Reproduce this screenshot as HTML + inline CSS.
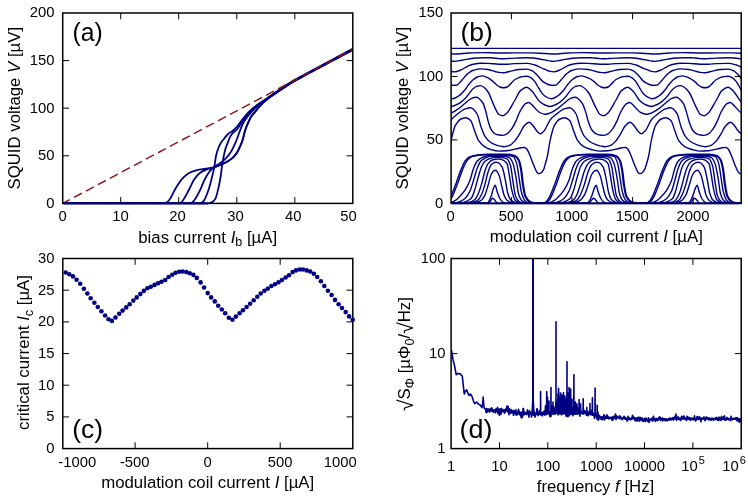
<!DOCTYPE html>
<html><head><meta charset="utf-8"><title>SQUID characteristics</title>
<style>html,body{margin:0;padding:0;background:#fff;}body{width:748px;height:499px;overflow:hidden;}svg{display:block;will-change:transform;}text{font-family:"Liberation Sans", sans-serif;fill:#000;}</style>
</head><body>
<svg width="748" height="499" viewBox="0 0 748 499">
<rect width="748" height="499" fill="#fff"/>
<defs>
<clipPath id="ca"><rect x="62.7" y="13" width="290.1" height="190.9"/></clipPath>
<clipPath id="cb"><rect x="451.1" y="13" width="290.1" height="190.9"/></clipPath>
<clipPath id="cd"><rect x="451.1" y="258.5" width="290.1" height="190.1"/></clipPath>
</defs>
<g clip-path="url(#ca)" fill="none" stroke="#000084" stroke-width="1.8" stroke-linejoin="round">
<path d="M62.7 203.4C96.5 203.4 130.3 203.4 164.1 203.4C164.9 203.4 165.7 203 166.5 202.6C167.3 202.2 168.2 201.3 169 200.3C171.3 197.6 173.7 191.4 176 187.7C178.3 184 180.7 180.2 183 177.9C185.3 175.6 187.7 173.6 190 172.5C192.4 171.4 194.7 170.6 197.1 170.1C199.4 169.6 201.8 169.4 204.1 169C207.5 168.4 211 168.1 214.4 167.3C217.6 166.5 220.9 164.9 224.1 163.3C226.8 162 229.4 160.6 232.1 158.4C233.7 157.1 235.3 155.2 236.9 152.8C238 151.2 239 148.8 240.1 146.4C240.9 144.5 241.8 142.5 242.6 140C243.4 137.5 244.3 133.1 245.1 130.5C246.2 127.2 247.2 124.8 248.3 122.4C249.4 120 250.4 117.6 251.5 116C253.1 113.6 254.7 112.3 256.3 110.4C257.5 108.9 258.8 107.3 260 106C261.7 104.2 263.3 102.4 265 101C269.8 96.9 274.6 93.9 279.4 90.7C284.3 87.3 289.2 84.1 294.1 81.2C299 78.4 303.9 75.9 308.8 73.2C313.7 70.6 318.6 68 323.5 65.4C328.4 62.7 333.3 60.2 338.2 57.6C343.1 54.9 348 52.3 352.9 49.7"/>
<path d="M62.7 203.4C101.4 203.4 140.1 203.4 178.8 203.4C179.5 203.4 180.3 203 181 202.6C181.7 202.2 182.3 201.2 183 200.3C184.9 197.8 186.7 194 188.6 190.5C190.5 187 192.4 182 194.3 179.3C196.2 176.6 198 174.3 199.9 173C202.2 171.3 204.6 170.3 206.9 169.4C209.4 168.5 211.9 168 214.4 167.2C217.6 166.1 220.9 164.9 224.1 163.3C226.8 162 229.4 160.6 232.1 158.4C233.7 157.1 235.3 155.2 236.9 152.8C238 151.2 239 148.8 240.1 146.4C240.9 144.5 241.8 142.5 242.6 140C243.4 137.5 244.3 133.1 245.1 130.5C246.2 127.2 247.2 124.8 248.3 122.4C249.4 120 250.4 117.6 251.5 116C253.1 113.6 254.7 112.3 256.3 110.4C257.5 108.9 258.8 107.3 260 106C261.7 104.2 263.3 102.4 265 101C269.8 96.9 274.6 93.9 279.4 90.7C284.3 87.3 289.2 84.1 294.1 81.2C299 78.4 303.9 75.9 308.8 73.2C313.7 70.6 318.6 68 323.5 65.4C328.4 62.7 333.3 60.2 338.2 57.6C343.1 54.9 348 52.3 352.9 49.7"/>
<path d="M62.7 203.4C105.1 203.4 147.6 203.4 190 203.4C190.7 203.4 191.3 203 192 202.6C192.8 202.2 193.5 201.2 194.3 200.3C196.2 198 198 194.3 199.9 190.5C201.3 187.7 202.7 183.5 204.1 180.7C205.7 177.4 207.4 174.4 209 172.2C210.8 169.8 212.6 167.8 214.4 166.5C216.3 165.1 218.1 164.6 220 163.3C222.2 161.8 224.3 159.9 226.5 157.6C228.1 155.9 229.7 153.8 231.3 151.2C232.4 149.5 233.4 147.1 234.5 144.8C235.2 143.3 235.9 141.7 236.6 140C237.6 137.6 238.5 134.5 239.5 132C240.6 129.2 241.6 126.1 242.7 124C244 121.4 245.4 119.4 246.7 117.6C248.5 115.2 250.2 113.4 252 111.5C254 109.4 256 107.2 258 105.5C260.3 103.5 262.7 102 265 100.3C269.8 96.8 274.6 93.4 279.4 90.2C284.3 86.9 289.2 83.7 294.1 80.8C299 77.9 303.9 75.4 308.8 72.8C313.7 70.2 318.6 67.5 323.5 64.9C328.4 62.3 333.3 59.7 338.2 57.1C343.1 54.5 348 51.9 352.9 49.2"/>
<path d="M62.7 203.4C108.4 203.4 154.2 203.4 199.9 203.4C200.6 203.4 201.3 203 202 202.6C202.7 202.2 203.4 201.3 204.1 200.3C205.5 198.3 206.9 194.5 208.3 190.5C209.2 187.9 210.2 184.2 211.1 180.7C211.8 178.1 212.5 175.3 213.2 172.2C213.6 170.4 214 168.7 214.4 166.5C214.9 163.6 215.5 158.4 216 156C216.8 152.4 217.6 150 218.4 148C219.5 145.3 220.6 143.2 221.7 141.6C222.1 141 222.6 140.5 223 140C224.8 137.9 226.5 135.2 228.3 133.7C229.9 132.3 231.5 131.8 233.1 130.5C234.4 129.4 235.8 128 237.1 126.5C239.8 123.5 242.4 119 245.1 116C247.8 113 250.4 110.2 253.1 108C257.1 104.7 261 102.5 265 99.8C269.8 96.5 274.6 93.1 279.4 89.9C284.3 86.7 289.2 83.4 294.1 80.5C299 77.6 303.9 75.1 308.8 72.5C313.7 69.9 318.6 67.2 323.5 64.6C328.4 62 333.3 59.4 338.2 56.8C343.1 54.2 348 51.6 352.9 48.9"/>
<path d="M62.7 203.4C111.2 203.4 159.8 203.4 208.3 203.4C209.2 203.4 210.1 203 211 202.6C211.7 202.3 212.3 202 213 201.5C213.8 200.9 214.5 200.2 215.3 198.9C216.5 197 217.6 191.4 218.8 186.3C219.5 183.2 220.2 179.8 220.9 175C221.2 173.2 221.4 170 221.7 168.1C222.2 164.2 222.8 161.1 223.3 158.4C224.1 154.3 224.9 150.5 225.7 148C226.2 146.5 226.6 145.6 227.1 144.4C228.2 141.7 229.2 138.2 230.3 136.4C231.6 134.2 233 132.9 234.3 131.6C235.1 130.8 235.9 130.5 236.7 129.7C237.5 128.9 238.2 127.6 239 126.5C241.2 123.4 243.4 119.7 245.6 117C248.2 113.8 250.8 110.8 253.4 108.5C257.3 105.1 261.1 102.8 265 100C269.8 96.5 274.6 93 279.4 89.8C284.3 86.4 289.2 83.2 294.1 80.3C299 77.5 303.9 75 308.8 72.3C313.7 69.7 318.6 67.1 323.5 64.5C328.4 61.8 333.3 59.3 338.2 56.6C343.1 54 348 51.4 352.9 48.8"/>
</g>
<path d="M62.7 203.4L352.8 49.2" stroke="#8b1414" stroke-width="1.45" stroke-dasharray="8.9 4.7" stroke-dashoffset="0.9" fill="none"/>
<rect x="62.7" y="13" width="290.1" height="190.4" fill="none" stroke="#000" stroke-width="1.5"/>
<path d="M63.4 203.4H208" stroke="#000084" stroke-width="2" fill="none"/>
<path d="M120.7 203.4v-6.3 M120.7 13v6.3M178.7 203.4v-6.3 M178.7 13v6.3M236.8 203.4v-6.3 M236.8 13v6.3M294.8 203.4v-6.3 M294.8 13v6.3M62.7 155.8h6.3 M352.8 155.8h-6.3M62.7 108.2h6.3 M352.8 108.2h-6.3M62.7 60.6h6.3 M352.8 60.6h-6.3" stroke="#000" stroke-width="1" fill="none"/>
<text x="54.4" y="207.7" font-size="14.8" text-anchor="end" >0</text>
<text x="54.4" y="160.1" font-size="14.8" text-anchor="end" >50</text>
<text x="54.4" y="112.5" font-size="14.8" text-anchor="end" >100</text>
<text x="54.4" y="64.9" font-size="14.8" text-anchor="end" >150</text>
<text x="54.4" y="17.3" font-size="14.8" text-anchor="end" >200</text>
<text x="62.5" y="221" font-size="14.8" text-anchor="middle" >0</text>
<text x="120.4" y="221" font-size="14.8" text-anchor="middle" >10</text>
<text x="177.6" y="221" font-size="14.8" text-anchor="middle" >20</text>
<text x="235.6" y="221" font-size="14.8" text-anchor="middle" >30</text>
<text x="293.2" y="221" font-size="14.8" text-anchor="middle" >40</text>
<text x="348.6" y="221" font-size="14.8" text-anchor="middle" >50</text>
<text x="207.7" y="242.6" font-size="16.8" text-anchor="middle">bias current <tspan font-style="italic">I</tspan><tspan font-size="12.5" dy="3.5">b</tspan><tspan dy="-3.5"> [µA]</tspan></text>
<text transform="translate(19.8 108.2) rotate(-90)" font-size="16.8" text-anchor="middle">SQUID voltage <tspan font-style="italic">V</tspan> [µV]</text>
<text transform="translate(72.6 41) scale(0.99 1)" font-size="25">(a)</text>
<g clip-path="url(#cb)" fill="none" stroke="#000084" stroke-width="1.4" stroke-linejoin="round">
<path d="M451 48.4H742"/>
<path d="M446 53.5C448.9 53.8 451.7 54 454.6 54C459.4 54 464.2 53.2 469 53C473.5 52.8 478.1 52.6 482.6 52.6C488.1 52.6 493.5 53 499 53C504.3 53 509.7 52.9 515 52.9C520.3 52.9 525.7 52.9 531 52.9C535.7 52.9 540.3 53.3 545 53.5C547.9 53.6 550.7 54 553.6 54C558.4 54 563.2 53.2 568 53C572.6 52.8 577.1 52.6 581.7 52.6C587.8 52.6 593.9 53 600 53C605.3 53 610.7 52.9 616 52.9C621.3 52.9 626.7 52.9 632 52.9C636.7 52.9 641.5 53.3 646.2 53.5C649.1 53.6 651.9 54 654.8 54C659.6 54 664.4 53.2 669.2 53C673.7 52.8 678.2 52.6 682.7 52.6C688.6 52.6 694.5 53 700.4 53C705.7 53 711.1 52.9 716.4 52.9C721.7 52.9 727.1 52.9 732.4 52.9C737.4 52.9 742.4 53.3 747.4 53.5C750.3 53.6 753.1 54 756 54C760.8 54 765.6 53.2 770.4 53C775 52.8 779.5 52.6 784.1 52.6C790.2 52.6 796.3 53 802.4 53C807.7 53 813.1 52.9 818.4 52.9C823.7 52.9 829.1 52.9 834.4 52.9"/>
<path d="M446 59.9C447 60.2 448 60.4 449 60.6C450.9 60.9 452.7 61.4 454.6 61.4C457 61.4 459.4 60.6 461.8 60.2C465.5 59.6 469.3 58.5 473 58.2C476.2 57.9 479.4 57.7 482.6 57.7C485.5 57.7 488.5 57.7 491.4 57.8C494 57.9 496.5 58.4 499 58.6C500.5 58.7 502 58.8 503.5 58.8C504.7 58.8 505.8 58.7 507 58.6C509.7 58.4 512.3 58.2 515 58.1C519 57.9 523 57.7 527 57.7C529.7 57.7 532.3 58 535 58.2C537.7 58.4 540.3 59.2 543 59.6C543.7 59.7 544.3 59.8 545 59.9C546 60.1 547 60.4 548 60.6C549.9 60.9 551.7 61.4 553.6 61.4C556 61.4 558.4 60.6 560.8 60.2C564.5 59.6 568.3 58.5 572 58.2C575.2 57.9 578.5 57.7 581.7 57.7C585.1 57.7 588.6 57.7 592 57.8C594.7 57.8 597.3 58.4 600 58.6C601.5 58.7 603 58.8 604.5 58.8C605.7 58.8 606.8 58.7 608 58.6C610.7 58.4 613.3 58.2 616 58.1C620 57.9 624 57.7 628 57.7C630.7 57.7 633.3 58 636 58.2C638.7 58.4 641.3 59.2 644 59.6C644.7 59.7 645.5 59.8 646.2 59.9C647.2 60.1 648.2 60.4 649.2 60.6C651.1 60.9 652.9 61.4 654.8 61.4C657.2 61.4 659.6 60.6 662 60.2C665.7 59.6 669.5 58.5 673.2 58.2C676.4 57.9 679.5 57.7 682.7 57.7C686 57.7 689.3 57.7 692.6 57.8C695.2 57.8 697.8 58.4 700.4 58.6C701.9 58.7 703.4 58.8 704.9 58.8C706.1 58.8 707.2 58.7 708.4 58.6C711.1 58.4 713.7 58.2 716.4 58.1C720.4 57.9 724.4 57.7 728.4 57.7C731.1 57.7 733.7 58 736.4 58.2C739.1 58.4 741.7 59.3 744.4 59.6C745.4 59.7 746.4 59.8 747.4 59.9C748.4 60 749.4 60.4 750.4 60.6C752.3 60.9 754.1 61.4 756 61.4C758.4 61.4 760.8 60.6 763.2 60.2C766.9 59.6 770.7 58.5 774.4 58.2C777.6 57.9 780.9 57.7 784.1 57.7C787.5 57.7 791 57.7 794.4 57.8C797.1 57.8 799.7 58.4 802.4 58.6C803.9 58.7 805.4 58.8 806.9 58.8C808.1 58.8 809.2 58.7 810.4 58.6C813.1 58.4 815.7 58.2 818.4 58.1C822.4 57.9 826.4 57.7 830.4 57.7C833.1 57.7 835.7 58 838.4 58.2C841.1 58.4 843.7 59 846.4 59.6"/>
<path d="M446 69.3C447.3 70 448.7 70.6 450 71C451.5 71.4 453.1 71.9 454.6 71.9C456.7 71.9 458.9 70.8 461 69.9C463.2 69 465.3 67.3 467.5 66.3C469.4 65.5 471.2 64.5 473.1 64.2C475.8 63.7 478.4 63.3 481.1 63.3C483.4 63.3 485.8 63.3 488.1 63.4C491.7 63.5 495.4 64.2 499 64.2C501.7 64.2 504.3 64.2 507 64.2C509.7 64.2 512.3 63.7 515 63.6C519 63.5 523.1 63.4 527.1 63.4C529.8 63.4 532.4 64.3 535.1 65C537.8 65.7 540.4 67.7 543.1 68.7C543.7 68.9 544.4 69.1 545 69.3C546.3 69.8 547.7 70.6 549 71C550.5 71.4 552.1 71.9 553.6 71.9C555.7 71.9 557.9 70.8 560 69.9C562.2 69 564.3 67.3 566.5 66.3C568.4 65.5 570.2 64.5 572.1 64.2C574.8 63.7 577.4 63.3 580.1 63.3C582.8 63.3 585.4 63.3 588.1 63.4C592.1 63.5 596 64.2 600 64.2C602.7 64.2 605.3 64.2 608 64.2C610.7 64.2 613.3 63.7 616 63.6C620 63.5 624.1 63.4 628.1 63.4C630.8 63.4 633.4 64.3 636.1 65C638.8 65.7 641.4 67.8 644.1 68.7C644.8 68.9 645.5 69.1 646.2 69.3C647.5 69.7 648.9 70.6 650.2 71C651.7 71.4 653.3 71.9 654.8 71.9C656.9 71.9 659.1 70.8 661.2 69.9C663.4 69 665.5 67.3 667.7 66.3C669.6 65.5 671.4 64.5 673.3 64.2C675.9 63.7 678.5 63.3 681.1 63.3C683.7 63.3 686.3 63.3 688.9 63.4C692.7 63.5 696.6 64.2 700.4 64.2C703.1 64.2 705.7 64.2 708.4 64.2C711.1 64.2 713.7 63.7 716.4 63.6C720.4 63.5 724.5 63.4 728.5 63.4C731.2 63.4 733.8 64.3 736.5 65C739.2 65.7 741.8 68 744.5 68.7C745.5 69 746.4 69 747.4 69.3C748.7 69.7 750.1 70.6 751.4 71C752.9 71.4 754.5 71.9 756 71.9C758.1 71.9 760.3 70.8 762.4 69.9C764.6 69 766.7 67.3 768.9 66.3C770.8 65.5 772.6 64.5 774.5 64.2C777.2 63.7 779.8 63.3 782.5 63.3C785.2 63.3 787.8 63.3 790.5 63.4C794.5 63.5 798.4 64.2 802.4 64.2C805.1 64.2 807.7 64.2 810.4 64.2C813.1 64.2 815.7 63.7 818.4 63.6C822.4 63.5 826.5 63.4 830.5 63.4C833.2 63.4 835.8 64.3 838.5 65C841.2 65.7 843.8 67.1 846.5 68.7"/>
<path d="M446 82.9C447.5 83.9 449.1 84.7 450.6 85C451.7 85.2 452.9 85.4 454 85.4C455 85.4 456 85.2 457 85C458.6 84.6 460.2 82 461.8 80.3C463.7 78.3 465.6 75.5 467.5 73.9C469.4 72.4 471.2 70.8 473.1 70.3C475.8 69.5 478.4 68.9 481.1 68.9C483.4 68.9 485.8 69.2 488.1 69.5C490.4 69.8 492.8 70.9 495.1 71.5C496.4 71.8 497.7 72.3 499 72.4C500.6 72.6 502.2 72.7 503.8 72.7C506.2 72.7 508.6 71.6 511 71.1C513.7 70.5 516.3 69.7 519 69.5C521.7 69.3 524.4 69.1 527.1 69.1C529 69.1 530.8 70.1 532.7 71.1C534.3 71.9 535.9 73.9 537.5 75.5C539.1 77.1 540.7 79.8 542.3 81.1C543.2 81.8 544.1 82.4 545 82.9C546.5 83.7 548.1 84.7 549.6 85C550.7 85.2 551.9 85.4 553 85.4C554 85.4 555 85.2 556 85C557.6 84.6 559.2 82 560.8 80.3C562.7 78.3 564.6 75.5 566.5 73.9C568.4 72.4 570.2 70.8 572.1 70.3C574.8 69.5 577.4 68.9 580.1 68.9C582.8 68.9 585.4 69.2 588.1 69.5C590.8 69.8 593.4 70.9 596.1 71.5C597.4 71.8 598.7 72.3 600 72.4C601.6 72.6 603.2 72.7 604.8 72.7C607.2 72.7 609.6 71.6 612 71.1C614.7 70.5 617.3 69.7 620 69.5C622.7 69.3 625.4 69.1 628.1 69.1C630 69.1 631.8 70.1 633.7 71.1C635.3 71.9 636.9 73.9 638.5 75.5C640.1 77.1 641.7 79.8 643.3 81.1C644.3 81.9 645.2 82.4 646.2 82.9C647.7 83.7 649.3 84.7 650.8 85C651.9 85.2 653.1 85.4 654.2 85.4C655.2 85.4 656.2 85.2 657.2 85C658.8 84.6 660.4 82 662 80.3C663.9 78.3 665.8 75.5 667.7 73.9C669.6 72.4 671.4 70.8 673.3 70.3C675.9 69.5 678.5 68.9 681.1 68.9C683.7 68.9 686.3 69.2 688.9 69.5C691.4 69.8 694 70.9 696.6 71.5C697.9 71.8 699.1 72.3 700.4 72.4C702 72.6 703.6 72.7 705.2 72.7C707.6 72.7 710 71.6 712.4 71.1C715.1 70.5 717.7 69.7 720.4 69.5C723.1 69.3 725.8 69.1 728.5 69.1C730.4 69.1 732.2 70.1 734.1 71.1C735.7 71.9 737.3 73.9 738.9 75.5C740.5 77.1 742.1 80 743.7 81.1C744.9 81.9 746.2 82.3 747.4 82.9C748.9 83.6 750.5 84.7 752 85C753.1 85.2 754.3 85.4 755.4 85.4C756.4 85.4 757.4 85.2 758.4 85C760 84.6 761.6 82 763.2 80.3C765.1 78.3 767 75.5 768.9 73.9C770.8 72.4 772.6 70.8 774.5 70.3C777.2 69.5 779.8 68.9 782.5 68.9C785.2 68.9 787.8 69.2 790.5 69.5C793.2 69.8 795.8 70.9 798.5 71.5C799.8 71.8 801.1 72.3 802.4 72.4C804 72.6 805.6 72.7 807.2 72.7C809.6 72.7 812 71.6 814.4 71.1C817.1 70.5 819.7 69.7 822.4 69.5C825.1 69.3 827.8 69.1 830.5 69.1C832.4 69.1 834.2 70.1 836.1 71.1C837.7 71.9 839.3 73.9 840.9 75.5C842.5 77.1 844.1 79 845.7 81.1"/>
<path d="M446 96.1C448.1 97.9 450.1 98.8 452.2 98.8C454.3 98.8 456.5 97.3 458.6 96C460.8 94.7 462.9 92.2 465.1 89.6C466.2 88.3 467.2 86.3 468.3 85C469.9 83 471.5 81 473.1 79.7C474.7 78.4 476.3 77.1 477.9 76.7C479.5 76.3 481 75.9 482.6 75.9C484.4 75.9 486.3 77 488.1 77.9C489.9 78.8 491.7 80.3 493.6 81.9C494.6 82.8 495.7 84.2 496.7 85C497.8 85.8 498.9 86.6 500 87C501.2 87.4 502.4 87.8 503.6 87.8C504.7 87.8 505.9 87.4 507 87C507.8 86.7 508.6 85.7 509.4 85C511.3 83.3 513.1 80.6 515 79.5C517.2 78.2 519.3 77 521.5 76.7C523.4 76.5 525.2 76.3 527.1 76.3C528.4 76.3 529.8 77.1 531.1 77.9C532.4 78.7 533.8 80.2 535.1 81.9C535.9 82.9 536.7 84.7 537.5 86C539.1 88.6 540.7 91.8 542.3 93.6C543.2 94.6 544.1 95.5 545 96.1C547.1 97.4 549.1 98.8 551.2 98.8C553.3 98.8 555.5 97.3 557.6 96C559.8 94.7 561.9 92.2 564.1 89.6C565.2 88.3 566.2 86.3 567.3 85C568.9 83 570.5 81 572.1 79.7C573.7 78.4 575.3 77.1 576.9 76.7C578.5 76.3 580.1 75.9 581.7 75.9C583.8 75.9 586 77 588.1 77.9C590.2 78.8 592.4 80.2 594.5 81.9C595.6 82.7 596.6 84.2 597.7 85C598.8 85.8 599.9 86.6 601 87C602.2 87.4 603.4 87.8 604.6 87.8C605.7 87.8 606.9 87.4 608 87C608.8 86.7 609.6 85.7 610.4 85C612.3 83.3 614.1 80.6 616 79.5C618.2 78.2 620.3 77 622.5 76.7C624.4 76.5 626.2 76.3 628.1 76.3C629.4 76.3 630.8 77.1 632.1 77.9C633.4 78.7 634.8 80.2 636.1 81.9C636.9 82.9 637.7 84.7 638.5 86C640.1 88.6 641.7 91.9 643.3 93.6C644.3 94.7 645.2 95.5 646.2 96.1C648.3 97.3 650.3 98.8 652.4 98.8C654.5 98.8 656.7 97.3 658.8 96C661 94.7 663.1 92.2 665.3 89.6C666.4 88.3 667.4 86.3 668.5 85C670.1 83 671.7 81 673.3 79.7C674.9 78.4 676.5 77.1 678 76.7C679.6 76.3 681.1 75.9 682.7 75.9C684.7 75.9 686.8 77 688.9 77.9C690.9 78.8 693 80.2 695.1 81.9C696.1 82.7 697.1 84.2 698.2 85C699.2 85.8 700.3 86.6 701.4 87C702.6 87.4 703.8 87.8 705 87.8C706.1 87.8 707.3 87.4 708.4 87C709.2 86.7 710 85.7 710.8 85C712.7 83.3 714.5 80.6 716.4 79.5C718.6 78.2 720.7 77 722.9 76.7C724.8 76.5 726.6 76.3 728.5 76.3C729.8 76.3 731.2 77.1 732.5 77.9C733.8 78.7 735.2 80.2 736.5 81.9C737.3 82.9 738.1 84.7 738.9 86C740.5 88.6 742.1 92.1 743.7 93.6C744.9 94.7 746.2 95.4 747.4 96.1C749.5 97.2 751.5 98.8 753.6 98.8C755.7 98.8 757.9 97.3 760 96C762.2 94.7 764.3 92.2 766.5 89.6C767.6 88.3 768.6 86.3 769.7 85C771.3 83 772.9 81 774.5 79.7C776.1 78.4 777.7 77.1 779.3 76.7C780.9 76.3 782.5 75.9 784.1 75.9C786.2 75.9 788.4 77 790.5 77.9C792.6 78.8 794.8 80.2 796.9 81.9C798 82.7 799 84.2 800.1 85C801.2 85.8 802.3 86.6 803.4 87C804.6 87.4 805.8 87.8 807 87.8C808.1 87.8 809.3 87.4 810.4 87C811.2 86.7 812 85.7 812.8 85C814.7 83.3 816.5 80.6 818.4 79.5C820.6 78.2 822.7 77 824.9 76.7C826.8 76.5 828.6 76.3 830.5 76.3C831.8 76.3 833.2 77.1 834.5 77.9C835.8 78.7 837.2 80.2 838.5 81.9C839.3 82.9 840.1 84.7 840.9 86C842.5 88.6 844.1 91.2 845.7 93.6"/>
<path d="M446 105C447.8 106.1 449.6 106.5 451.4 106.5C453.3 106.5 455.1 105.4 457 104.5C459.7 103.2 462.4 100.9 465.1 98.4C467.8 95.9 470.4 91 473.1 88.8C474.4 87.7 475.7 86.6 477 86.2C478.1 85.9 479.2 85.6 480.3 85.6C481.4 85.6 482.6 86.3 483.7 87C485.2 87.9 486.6 89.8 488.1 92C490.4 95.5 492.8 103.7 495.1 108.1C496.4 110.5 497.7 113.8 499 114.5C500.3 115.2 501.7 115.7 503 115.7C504.3 115.7 505.7 114.1 507 112.9C509.7 110.4 512.3 104.4 515 100C516.9 96.9 518.8 91.9 520.7 90.4C522.7 88.8 524.7 87.2 526.7 87.2C528.7 87.2 530.7 90 532.7 92C534.8 94.2 537 98.9 539.1 100.9C541.1 102.7 543 104.2 545 105C546.8 105.7 548.6 106.5 550.4 106.5C552.3 106.5 554.1 105.4 556 104.5C558.7 103.2 561.4 100.9 564.1 98.4C566.8 95.9 569.4 91 572.1 88.8C573.4 87.7 574.7 86.6 576 86.2C577.1 85.9 578.2 85.6 579.3 85.6C580.5 85.6 581.8 86.3 583 87C584.7 87.9 586.4 89.8 588.1 92C590.8 95.4 593.4 103.3 596.1 108.1C597.4 110.4 598.7 113.8 600 114.5C601.3 115.2 602.7 115.7 604 115.7C605.3 115.7 606.7 114.1 608 112.9C610.7 110.4 613.3 104.4 616 100C617.9 96.9 619.8 91.9 621.7 90.4C623.7 88.8 625.7 87.2 627.7 87.2C629.7 87.2 631.7 90 633.7 92C635.8 94.2 638 99 640.1 100.9C642.1 102.7 644.2 104.2 646.2 105C648 105.7 649.8 106.5 651.6 106.5C653.5 106.5 655.3 105.4 657.2 104.5C659.9 103.2 662.6 100.9 665.3 98.4C668 95.9 670.6 91 673.3 88.8C674.6 87.7 675.9 86.6 677.2 86.2C678.2 85.9 679.3 85.6 680.3 85.6C681.5 85.6 682.7 86.3 683.9 87C685.6 87.9 687.2 89.8 688.9 92C691.4 95.4 694 103.3 696.6 108.1C697.9 110.4 699.1 113.9 700.4 114.5C701.7 115.2 703.1 115.7 704.4 115.7C705.7 115.7 707.1 114.1 708.4 112.9C711.1 110.4 713.7 104.4 716.4 100C718.3 96.9 720.2 91.9 722.1 90.4C724.1 88.8 726.1 87.2 728.1 87.2C730.1 87.2 732.1 90 734.1 92C736.2 94.2 738.4 99.1 740.5 100.9C742.8 102.8 745.1 104.1 747.4 105C749.2 105.7 751 106.5 752.8 106.5C754.7 106.5 756.5 105.4 758.4 104.5C761.1 103.2 763.8 100.9 766.5 98.4C769.2 95.9 771.8 91 774.5 88.8C775.8 87.7 777.1 86.6 778.4 86.2C779.5 85.9 780.6 85.6 781.7 85.6C782.9 85.6 784.2 86.3 785.4 87C787.1 87.9 788.8 89.8 790.5 92C793.2 95.4 795.8 103.3 798.5 108.1C799.8 110.4 801.1 113.8 802.4 114.5C803.7 115.2 805.1 115.7 806.4 115.7C807.7 115.7 809.1 114.1 810.4 112.9C813.1 110.4 815.7 104.4 818.4 100C820.3 96.9 822.2 91.9 824.1 90.4C826.1 88.8 828.1 87.2 830.1 87.2C832.1 87.2 834.1 90 836.1 92C838.2 94.2 840.4 97.3 842.5 100.9"/>
<path d="M446 114.3C447 114.2 448 114 449 113.8C451.7 113.2 454.3 111.4 457 109.7C459.7 108 462.4 105.4 465.1 103.3C467.2 101.6 469.4 99.2 471.5 98.4C473.1 97.8 474.7 97.2 476.3 97.2C478.4 97.2 480.5 99.6 482.6 102.5C483.7 104.1 484.9 108.1 486 112.1C486.7 114.5 487.4 118.7 488.1 121C489.2 124.9 490.4 128.5 491.5 130.2C492.7 132 493.9 133.2 495.1 133.8C496.4 134.4 497.7 134.8 499 135C500.1 135.2 501.1 135.4 502.2 135.4C503.8 135.4 505.4 134.6 507 133.8C508.6 133 510.2 130.8 511.8 128.6C513.1 126.8 514.5 124.2 515.8 121.4C516.9 119.2 517.9 115.7 519 113.5C519.8 111.8 520.7 110.2 521.5 108.9C522.8 106.8 524.2 104.5 525.5 103.7C526.6 103.1 527.6 102.5 528.7 102.5C530.3 102.5 531.9 105 533.5 106.5C535.4 108.2 537.2 111.1 539.1 112.1C541.1 113.2 543 114.3 545 114.3C546 114.3 547 114 548 113.8C550.7 113.2 553.3 111.4 556 109.7C558.7 108 561.4 105.4 564.1 103.3C566.2 101.6 568.4 99.2 570.5 98.4C572.1 97.8 573.7 97.2 575.3 97.2C577.4 97.2 579.6 99.8 581.7 102.5C583 104.2 584.4 108.1 585.7 112.1C586.5 114.5 587.3 118.7 588.1 121C589.4 124.9 590.8 128.5 592.1 130.2C593.4 131.9 594.8 133.2 596.1 133.8C597.4 134.4 598.7 134.8 600 135C601.1 135.2 602.1 135.4 603.2 135.4C604.8 135.4 606.4 134.6 608 133.8C609.6 133 611.2 130.8 612.8 128.6C614.1 126.8 615.5 124.2 616.8 121.4C617.9 119.2 618.9 115.7 620 113.5C620.8 111.8 621.7 110.2 622.5 108.9C623.8 106.8 625.2 104.5 626.5 103.7C627.6 103.1 628.6 102.5 629.7 102.5C631.3 102.5 632.9 105 634.5 106.5C636.4 108.2 638.2 111.1 640.1 112.1C642.1 113.2 644.2 114.3 646.2 114.3C647.2 114.3 648.2 114 649.2 113.8C651.9 113.2 654.5 111.4 657.2 109.7C659.9 108 662.6 105.4 665.3 103.3C667.4 101.6 669.6 99.2 671.7 98.4C673.3 97.8 674.9 97.2 676.5 97.2C678.5 97.2 680.6 99.8 682.7 102.5C684 104.2 685.3 108.1 686.5 112.1C687.3 114.5 688.1 118.7 688.9 121C690.2 124.9 691.4 128.5 692.7 130.2C694 131.9 695.3 133.2 696.6 133.8C697.9 134.4 699.1 134.8 700.4 135C701.5 135.2 702.5 135.4 703.6 135.4C705.2 135.4 706.8 134.6 708.4 133.8C710 133 711.6 130.8 713.2 128.6C714.5 126.8 715.9 124.2 717.2 121.4C718.3 119.2 719.3 115.7 720.4 113.5C721.2 111.8 722.1 110.2 722.9 108.9C724.2 106.8 725.6 104.5 726.9 103.7C728 103.1 729 102.5 730.1 102.5C731.7 102.5 733.3 105 734.9 106.5C736.8 108.2 738.6 111.2 740.5 112.1C742.8 113.2 745.1 114.3 747.4 114.3C748.4 114.3 749.4 114 750.4 113.8C753.1 113.2 755.7 111.4 758.4 109.7C761.1 108 763.8 105.4 766.5 103.3C768.6 101.6 770.8 99.2 772.9 98.4C774.5 97.8 776.1 97.2 777.7 97.2C779.8 97.2 782 99.8 784.1 102.5C785.4 104.2 786.8 108.1 788.1 112.1C788.9 114.5 789.7 118.7 790.5 121C791.8 124.9 793.2 128.5 794.5 130.2C795.8 131.9 797.2 133.2 798.5 133.8C799.8 134.4 801.1 134.8 802.4 135C803.5 135.2 804.5 135.4 805.6 135.4C807.2 135.4 808.8 134.6 810.4 133.8C812 133 813.6 130.8 815.2 128.6C816.5 126.8 817.9 124.2 819.2 121.4C820.3 119.2 821.3 115.7 822.4 113.5C823.2 111.8 824.1 110.2 824.9 108.9C826.2 106.8 827.6 104.5 828.9 103.7C830 103.1 831 102.5 832.1 102.5C833.7 102.5 835.3 105 836.9 106.5C838.8 108.2 840.6 110.1 842.5 112.1"/>
<path d="M446 129.6C446.5 128.7 446.9 127.9 447.4 127C448.7 124.5 450.1 121.1 451.4 119.5C453.3 117.2 455.1 116 457 114.5C459.7 112.4 462.4 109.8 465.1 108.9C467 108.3 468.8 107.7 470.7 107.7C472.8 107.7 475 110.6 477.1 114C478.4 116.1 479.8 123.2 481.1 127C482.3 130.3 483.5 134 484.7 135.9C486.3 138.5 487.9 140.3 489.5 141.5C491.3 142.9 493.2 144 495.1 144.7C496.4 145.2 497.7 145.6 499 145.9C500.6 146.2 502.2 146.7 503.8 146.7C505.7 146.7 507.5 146.1 509.4 145.5C511.3 144.9 513.1 142.7 515 140.7C516.6 138.9 518.3 136.1 519.9 133.4C521.2 131.2 522.6 127.7 523.9 126.2C525.6 124.3 527.4 122.2 529.1 122.2C530.6 122.2 532 124.6 533.5 126.2C534.8 127.7 536.2 130.6 537.5 131.8C538.4 132.7 539.4 133.8 540.3 133.8C541.4 133.8 542.4 132.5 543.5 131.5C544 131 544.5 130.4 545 129.6C545.5 128.9 545.9 127.9 546.4 127C547.7 124.5 549.1 121.1 550.4 119.5C552.3 117.2 554.1 116 556 114.5C558.7 112.4 561.4 109.8 564.1 108.9C566 108.3 567.8 107.7 569.7 107.7C571.8 107.7 574 110.6 576.1 114C577.4 116.1 578.8 123.5 580.1 127C581.4 130.5 582.8 134 584.1 135.9C586 138.5 587.8 140.2 589.7 141.5C591.8 142.9 594 143.9 596.1 144.7C597.4 145.2 598.7 145.6 600 145.9C601.6 146.2 603.2 146.7 604.8 146.7C606.7 146.7 608.5 146.1 610.4 145.5C612.3 144.9 614.1 142.7 616 140.7C617.6 138.9 619.3 136.1 620.9 133.4C622.2 131.2 623.6 127.7 624.9 126.2C626.6 124.3 628.4 122.2 630.1 122.2C631.6 122.2 633 124.6 634.5 126.2C635.8 127.7 637.2 130.6 638.5 131.8C639.4 132.7 640.4 133.8 641.3 133.8C642.4 133.8 643.4 132.5 644.5 131.5C645.1 131 645.6 130.4 646.2 129.6C646.7 128.9 647.1 127.9 647.6 127C648.9 124.5 650.3 121.1 651.6 119.5C653.5 117.2 655.3 116 657.2 114.5C659.9 112.4 662.6 109.8 665.3 108.9C667.2 108.3 669 107.7 670.9 107.7C673 107.7 675.1 110.6 677.3 114C678.5 116.1 679.8 123.5 681.1 127C682.4 130.5 683.7 134 685 135.9C686.8 138.5 688.6 140.2 690.4 141.5C692.5 142.9 694.5 143.9 696.6 144.7C697.9 145.2 699.1 145.6 700.4 145.9C702 146.3 703.6 146.7 705.2 146.7C707.1 146.7 708.9 146.1 710.8 145.5C712.7 144.9 714.5 142.7 716.4 140.7C718 138.9 719.7 136.1 721.3 133.4C722.6 131.2 724 127.7 725.3 126.2C727 124.3 728.8 122.2 730.5 122.2C732 122.2 733.4 124.6 734.9 126.2C736.2 127.7 737.6 130.6 738.9 131.8C739.8 132.7 740.8 133.8 741.7 133.8C742.8 133.8 743.8 132.3 744.9 131.5C745.7 130.9 746.6 130.5 747.4 129.6C747.9 129.1 748.3 127.9 748.8 127C750.1 124.5 751.5 121.1 752.8 119.5C754.7 117.2 756.5 116 758.4 114.5C761.1 112.4 763.8 109.8 766.5 108.9C768.4 108.3 770.2 107.7 772.1 107.7C774.2 107.7 776.4 110.6 778.5 114C779.8 116.1 781.2 123.5 782.5 127C783.8 130.5 785.2 134 786.5 135.9C788.4 138.5 790.2 140.2 792.1 141.5C794.2 142.9 796.4 143.9 798.5 144.7C799.8 145.2 801.1 145.6 802.4 145.9C804 146.2 805.6 146.7 807.2 146.7C809.1 146.7 810.9 146.1 812.8 145.5C814.7 144.9 816.5 142.7 818.4 140.7C820 138.9 821.7 136.1 823.3 133.4C824.6 131.2 826 127.7 827.3 126.2C829 124.3 830.8 122.2 832.5 122.2C834 122.2 835.4 124.6 836.9 126.2C838.2 127.7 839.6 130.6 840.9 131.8C841.8 132.7 842.8 133.8 843.7 133.8C844.8 133.8 845.8 133.1 846.9 131.5"/>
<path d="M446 165C446.7 162.9 447.5 160.2 448.2 157C449.3 152.4 450.3 143.7 451.4 139.1C452.7 133.4 454.1 127.8 455.4 125.4C457.3 122.1 459.1 119.7 461 119C462.6 118.4 464.3 117.8 465.9 117.8C467.5 117.8 469.1 119 470.7 120.6C472 121.9 473.4 127.7 474.7 131C476 134.3 477.4 138.7 478.7 140.7C480.5 143.3 482.2 145.1 484 146.3C486.3 147.8 488.5 148.9 490.8 149.5C493.6 150.3 496.3 151.1 499 151.1C501.7 151.1 504.3 150.9 507 150.7C509.7 150.5 512.3 149.7 515 149.1C517.2 148.7 519.3 147.9 521.5 147.7C522.6 147.6 523.6 147.5 524.7 147.5C525.5 147.5 526.3 148.6 527.1 149.5C528 150.6 529 153.1 529.9 155.2C531.1 158 532.3 161.9 533.5 164.8C534.6 167.4 535.7 170.6 536.8 172C537.4 172.7 537.9 173.6 538.5 173.6C539.1 173.6 539.6 173.5 540.2 173.3C541.3 173 542.5 171.6 543.6 169.6C544.1 168.8 544.5 166.6 545 165C545.7 162.5 546.5 160.2 547.2 157C548.3 152.4 549.3 143.7 550.4 139.1C551.7 133.4 553.1 127.8 554.4 125.4C556.3 122.1 558.1 119.7 560 119C561.6 118.4 563.3 117.8 564.9 117.8C566.5 117.8 568.1 119 569.7 120.6C571 121.9 572.4 127.7 573.7 131C575 134.3 576.4 138.8 577.7 140.7C579.6 143.4 581.4 145.2 583.3 146.3C586 147.9 588.6 148.8 591.3 149.5C594.2 150.2 597.1 151.1 600 151.1C602.7 151.1 605.3 150.9 608 150.7C610.7 150.5 613.3 149.7 616 149.1C618.2 148.7 620.3 147.9 622.5 147.7C623.6 147.6 624.6 147.5 625.7 147.5C626.5 147.5 627.3 148.6 628.1 149.5C629 150.6 630 153.1 630.9 155.2C632.1 158 633.3 161.9 634.5 164.8C635.6 167.4 636.7 170.6 637.8 172C638.4 172.7 638.9 173.6 639.5 173.6C640.1 173.6 640.6 173.5 641.2 173.3C642.3 173 643.5 171.5 644.6 169.6C645.1 168.7 645.7 166.7 646.2 165C646.9 162.7 647.7 160.2 648.4 157C649.5 152.4 650.5 143.7 651.6 139.1C652.9 133.4 654.3 127.8 655.6 125.4C657.5 122.1 659.3 119.7 661.2 119C662.8 118.4 664.5 117.8 666.1 117.8C667.7 117.8 669.3 119 670.9 120.6C672.2 121.9 673.6 127.6 674.9 131C676.2 134.3 677.5 138.8 678.8 140.7C680.6 143.4 682.4 145.2 684.2 146.3C686.8 147.9 689.4 148.8 692 149.5C694.8 150.2 697.6 151.1 700.4 151.1C703.1 151.1 705.7 150.9 708.4 150.7C711.1 150.5 713.7 149.7 716.4 149.1C718.6 148.7 720.7 147.9 722.9 147.7C724 147.6 725 147.5 726.1 147.5C726.9 147.5 727.7 148.6 728.5 149.5C729.4 150.6 730.4 153.1 731.3 155.2C732.5 158 733.7 161.9 734.9 164.8C736 167.4 737.1 170.6 738.2 172C738.8 172.7 739.3 173.6 739.9 173.6C740.5 173.6 741 173.5 741.6 173.3C742.7 173 743.9 171.2 745 169.6C745.8 168.5 746.6 167 747.4 165C748.1 163.2 748.9 160.2 749.6 157C750.7 152.4 751.7 143.7 752.8 139.1C754.1 133.4 755.5 127.8 756.8 125.4C758.7 122.1 760.5 119.7 762.4 119C764 118.4 765.7 117.8 767.3 117.8C768.9 117.8 770.5 119 772.1 120.6C773.4 121.9 774.8 127.7 776.1 131C777.4 134.3 778.8 138.8 780.1 140.7C782 143.4 783.8 145.2 785.7 146.3C788.4 147.9 791 148.8 793.7 149.5C796.6 150.2 799.5 151.1 802.4 151.1C805.1 151.1 807.7 150.9 810.4 150.7C813.1 150.5 815.7 149.7 818.4 149.1C820.6 148.7 822.7 147.9 824.9 147.7C826 147.6 827 147.5 828.1 147.5C828.9 147.5 829.7 148.6 830.5 149.5C831.4 150.6 832.4 153.1 833.3 155.2C834.5 158 835.7 161.9 836.9 164.8C838 167.4 839.1 170.6 840.2 172C840.8 172.7 841.3 173.6 841.9 173.6C842.5 173.6 843 173.5 843.6 173.3C844.7 173 845.9 171.5 847 169.6"/>
<path d="M439 203.5C440.3 203.4 441.7 203.3 443 203.1C443.9 203 444.9 202.9 445.8 202.6C446.5 202.4 447.3 201.6 448 200.8C449 199.8 449.9 198 450.9 196.1C452.7 192.7 454.4 187.5 456.2 182.9C457.8 178.7 459.4 173.3 461 169.6C462.6 165.9 464.2 161.7 465.8 160C467.4 158.2 469.1 156.9 470.7 156.4C473.1 155.6 475.6 155.3 478 155C481.4 154.6 484.7 154.3 488.1 154.3C494.4 154.3 500.7 154.3 507 154.3C509.8 154.3 512.7 154.8 515.5 155.8C516.7 156.2 517.9 157.8 519.1 160C519.9 161.5 520.7 165.3 521.5 169.6C522.1 172.9 522.7 180.4 523.3 184.1C524.1 189.1 524.9 194.4 525.7 196.1C527.1 199.1 528.5 200.8 529.9 201.5C531.5 202.3 533.1 202.6 534.7 203C535.5 203.2 536.4 203.5 537.2 203.5C537.5 203.5 537.7 203.5 538 203.5C539.3 203.5 540.7 203.3 542 203.1C542.9 203 543.9 202.9 544.8 202.6C545.5 202.4 546.3 201.6 547 200.8C548 199.8 548.9 198 549.9 196.1C551.7 192.7 553.4 187.5 555.2 182.9C556.8 178.7 558.4 173.3 560 169.6C561.6 165.9 563.2 161.7 564.8 160C566.4 158.2 568.1 156.9 569.7 156.4C572.1 155.6 574.6 155.2 577 155C580.7 154.6 584.4 154.3 588.1 154.3C594.7 154.3 601.4 154.3 608 154.3C610.8 154.3 613.7 154.8 616.5 155.8C617.7 156.2 618.9 157.8 620.1 160C620.9 161.5 621.7 165.3 622.5 169.6C623.1 172.9 623.7 180.4 624.3 184.1C625.1 189.1 625.9 194.4 626.7 196.1C628.1 199.1 629.5 200.8 630.9 201.5C632.5 202.3 634.1 202.6 635.7 203C636.5 203.2 637.4 203.5 638.2 203.5C639 203.5 639.9 203.5 640.7 203.5C642 203.5 643.4 203.3 644.7 203.1C645.6 203 646.6 202.9 647.5 202.6C648.2 202.4 649 201.6 649.7 200.8C650.7 199.8 651.6 198 652.6 196.1C654.4 192.7 656.1 187.5 657.9 182.9C659.5 178.7 661.1 173.3 662.7 169.6C664.3 165.9 665.9 161.8 667.5 160C669.1 158.3 670.7 156.9 672.2 156.4C674.5 155.6 676.7 155.2 679 155C682.4 154.6 685.8 154.3 689.2 154.3C695.8 154.3 702.4 154.3 709 154.3C711.8 154.3 714.7 154.8 717.5 155.8C718.7 156.2 719.9 157.8 721.1 160C721.9 161.5 722.7 165.3 723.5 169.6C724.1 172.9 724.7 180.4 725.3 184.1C726.1 189.1 726.9 194.4 727.7 196.1C729.1 199.1 730.5 200.8 731.9 201.5C733.5 202.3 735.1 202.6 736.7 203C737.5 203.2 738.4 203.5 739.2 203.5C739.6 203.5 740 203.5 740.4 203.5C741.7 203.5 743.1 203.3 744.4 203.1C745.3 203 746.3 202.9 747.2 202.6C747.9 202.4 748.7 201.6 749.4 200.8C750.4 199.8 751.3 198 752.3 196.1C754.1 192.7 755.8 187.5 757.6 182.9C759.2 178.7 760.8 173.3 762.4 169.6C764 165.9 765.6 161.7 767.2 160C768.8 158.2 770.5 156.9 772.1 156.4C774.5 155.6 777 155.2 779.4 155C783.1 154.6 786.8 154.3 790.5 154.3C797.1 154.3 803.8 154.3 810.4 154.3C813.2 154.3 816.1 154.8 818.9 155.8C820.1 156.2 821.3 157.8 822.5 160C823.3 161.5 824.1 165.3 824.9 169.6C825.5 172.9 826.1 180.4 826.7 184.1C827.5 189.1 828.3 194.4 829.1 196.1C830.5 199.1 831.9 200.8 833.3 201.5C834.9 202.3 836.5 202.6 838.1 203C838.9 203.2 839.8 203.4 840.6 203.5"/>
<path d="M439 203.5C440.8 203.5 442.7 203.3 444.5 203.1C445.4 203 446.4 202.9 447.3 202.6C448.1 202.4 448.8 201.6 449.6 200.8C450.6 199.8 451.5 198 452.5 196.1C454.3 192.7 456 187.5 457.8 182.9C459.4 178.7 461 173.3 462.6 169.6C464.2 166 465.7 162.1 467.3 160.3C468.8 158.6 470.3 157.1 471.8 156.6C474.2 155.8 476.6 155.4 479 155.2C482 154.9 485.1 154.6 488.1 154.6C494.1 154.6 500 154.6 506 154.6C508.9 154.6 511.8 155.1 514.7 156C515.9 156.4 517.1 157.8 518.3 160C519.1 161.4 519.9 165.3 520.7 169.6C521.3 172.9 521.9 180.4 522.5 184.1C523.3 189.1 524.1 194.3 524.9 196.1C526.3 199.1 527.6 200.8 529 201.5C530.5 202.3 532 202.6 533.5 203C534.3 203.2 535.2 203.5 536 203.5C536.7 203.5 537.3 203.5 538 203.5C539.8 203.5 541.7 203.3 543.5 203.1C544.4 203 545.4 202.9 546.3 202.6C547.1 202.4 547.8 201.6 548.6 200.8C549.6 199.8 550.5 198 551.5 196.1C553.3 192.7 555 187.5 556.8 182.9C558.4 178.7 560 173.3 561.6 169.6C563.2 166 564.7 162.1 566.3 160.3C567.8 158.6 569.3 157.1 570.8 156.6C573.2 155.8 575.6 155.4 578 155.2C581.4 154.9 584.7 154.6 588.1 154.6C594.4 154.6 600.7 154.6 607 154.6C609.9 154.6 612.8 155.1 615.7 156C616.9 156.4 618.1 157.8 619.3 160C620.1 161.4 620.9 165.3 621.7 169.6C622.3 172.9 622.9 180.4 623.5 184.1C624.3 189.1 625.1 194.3 625.9 196.1C627.3 199.1 628.6 200.8 630 201.5C631.5 202.3 633 202.6 634.5 203C635.3 203.2 636.2 203.5 637 203.5C638.2 203.5 639.5 203.5 640.7 203.5C642.5 203.5 644.4 203.3 646.2 203.1C647.1 203 648.1 202.9 649 202.6C649.8 202.4 650.5 201.6 651.3 200.8C652.3 199.8 653.2 198 654.2 196.1C656 192.7 657.7 187.5 659.5 182.9C661.1 178.7 662.7 173.3 664.3 169.6C665.9 166 667.4 162.2 669 160.3C670.4 158.6 671.8 157.1 673.3 156.6C675.5 155.8 677.7 155.4 679.9 155.2C683 154.9 686.1 154.6 689.2 154.6C695.5 154.6 701.7 154.6 708 154.6C710.9 154.6 713.8 155.1 716.7 156C717.9 156.4 719.1 157.8 720.3 160C721.1 161.4 721.9 165.3 722.7 169.6C723.3 172.9 723.9 180.4 724.5 184.1C725.3 189.1 726.1 194.3 726.9 196.1C728.3 199.1 729.6 200.8 731 201.5C732.5 202.3 734 202.6 735.5 203C736.3 203.2 737.2 203.5 738 203.5C738.8 203.5 739.6 203.5 740.4 203.5C742.2 203.5 744.1 203.3 745.9 203.1C746.8 203 747.8 202.9 748.7 202.6C749.5 202.4 750.2 201.6 751 200.8C752 199.8 752.9 198 753.9 196.1C755.7 192.7 757.4 187.5 759.2 182.9C760.8 178.7 762.4 173.3 764 169.6C765.6 166 767.1 162.1 768.7 160.3C770.2 158.6 771.7 157.1 773.2 156.6C775.6 155.8 778 155.4 780.4 155.2C783.8 154.9 787.1 154.6 790.5 154.6C796.8 154.6 803.1 154.6 809.4 154.6C812.3 154.6 815.2 155.1 818.1 156C819.3 156.4 820.5 157.8 821.7 160C822.5 161.4 823.3 165.3 824.1 169.6C824.7 172.9 825.3 180.4 825.9 184.1C826.7 189.1 827.5 194.3 828.3 196.1C829.7 199.1 831 200.8 832.4 201.5C833.9 202.3 835.4 202.6 836.9 203C837.7 203.2 838.6 203.4 839.4 203.5"/>
<path d="M439 203.5C441.7 203.5 444.3 203.2 447 203C448.6 202.9 450.2 202.7 451.8 202.3C453 202 454.3 201.1 455.5 200.3C456.7 199.5 457.8 198.4 459 197.3C461 195.3 463 193.1 465 190.1C466.6 187.6 468.3 184.6 469.9 180.5C471.1 177.5 472.3 171.4 473.5 168.4C474.7 165.4 475.9 162.5 477.1 161.2C478.7 159.4 480.3 158.3 481.9 157.6C484 156.7 486 155.9 488.1 155.8C493.7 155.5 499.4 155.3 505 155.3C507.7 155.3 510.3 155.6 513 156.4C514.2 156.8 515.5 159.8 516.7 163.6C517.5 166 518.3 173.3 519.1 178.1C519.9 182.9 520.7 189.7 521.5 192.5C522.7 196.7 523.9 199.8 525.1 200.9C526.4 202 527.7 202.6 529 203C529.8 203.2 530.7 203.5 531.5 203.5C533.7 203.5 535.8 203.5 538 203.5C540.7 203.5 543.3 203.2 546 203C547.6 202.9 549.2 202.7 550.8 202.3C552 202 553.3 201.1 554.5 200.3C555.7 199.5 556.8 198.4 558 197.3C560 195.3 562 193.1 564 190.1C565.6 187.6 567.3 184.6 568.9 180.5C570.1 177.5 571.3 171.4 572.5 168.4C573.7 165.4 574.9 162.5 576.1 161.2C577.7 159.4 579.3 158.2 580.9 157.6C583.3 156.7 585.7 155.9 588.1 155.8C594.1 155.5 600 155.3 606 155.3C608.7 155.3 611.3 155.6 614 156.4C615.2 156.8 616.5 159.8 617.7 163.6C618.5 166 619.3 173.3 620.1 178.1C620.9 182.9 621.7 189.7 622.5 192.5C623.7 196.7 624.9 199.8 626.1 200.9C627.4 202 628.7 202.6 630 203C630.8 203.2 631.7 203.5 632.5 203.5C635.2 203.5 638 203.5 640.7 203.5C643.4 203.5 646 203.2 648.7 203C650.3 202.9 651.9 202.7 653.5 202.3C654.7 202 656 201.1 657.2 200.3C658.4 199.5 659.5 198.4 660.7 197.3C662.7 195.3 664.7 193.1 666.7 190.1C668.3 187.7 669.9 184.7 671.5 180.5C672.6 177.6 673.7 171.4 674.8 168.4C675.9 165.4 677 162.5 678.1 161.2C679.6 159.4 681.1 158.2 682.6 157.6C684.8 156.7 687 155.9 689.2 155.8C695.1 155.5 701.1 155.3 707 155.3C709.7 155.3 712.3 155.6 715 156.4C716.2 156.8 717.5 159.8 718.7 163.6C719.5 166 720.3 173.3 721.1 178.1C721.9 182.9 722.7 189.7 723.5 192.5C724.7 196.7 725.9 199.8 727.1 200.9C728.4 202 729.7 202.6 731 203C731.8 203.2 732.7 203.5 733.5 203.5C735.8 203.5 738.1 203.5 740.4 203.5C743.1 203.5 745.7 203.2 748.4 203C750 202.9 751.6 202.7 753.2 202.3C754.4 202 755.7 201.1 756.9 200.3C758.1 199.5 759.2 198.4 760.4 197.3C762.4 195.3 764.4 193.1 766.4 190.1C768 187.6 769.7 184.6 771.3 180.5C772.5 177.5 773.7 171.4 774.9 168.4C776.1 165.4 777.3 162.5 778.5 161.2C780.1 159.4 781.7 158.2 783.3 157.6C785.7 156.7 788.1 155.9 790.5 155.8C796.5 155.5 802.4 155.3 808.4 155.3C811.1 155.3 813.7 155.6 816.4 156.4C817.6 156.8 818.9 159.8 820.1 163.6C820.9 166 821.7 173.3 822.5 178.1C823.3 182.9 824.1 189.7 824.9 192.5C826.1 196.7 827.3 199.8 828.5 200.9C829.8 202 831.1 202.6 832.4 203C833.2 203.2 834.1 203.4 834.9 203.5"/>
<path d="M439 203.5C443.7 203.5 448.3 203.3 453 203C454.6 202.9 456.2 202.7 457.8 202.4C459 202.2 460.3 201.4 461.5 200.8C462.7 200.2 463.8 199.5 465 198.5C466.6 197 468.3 194.6 469.9 191.3C471.1 188.9 472.3 184.3 473.5 180.5C474.7 176.7 475.9 171.4 477.1 168.4C478.3 165.4 479.5 162.5 480.7 161.2C482.1 159.7 483.6 158.9 485 158.2C486.7 157.4 488.4 156.5 490.1 156.4C494.4 156.3 498.7 156.2 503 156.2C505.1 156.2 507.3 156.7 509.4 157.6C510.6 158.1 511.8 160.6 513 163.6C514 166.2 515.1 172.4 516.1 178.1C516.9 182.5 517.7 191.2 518.5 193.7C519.7 197.5 520.9 199.9 522.1 200.9C523.4 202 524.7 202.6 526 203C526.8 203.2 527.7 203.5 528.5 203.5C531.7 203.5 534.8 203.5 538 203.5C542.7 203.5 547.3 203.3 552 203C553.6 202.9 555.2 202.7 556.8 202.4C558 202.2 559.3 201.4 560.5 200.8C561.7 200.2 562.8 199.5 564 198.5C565.6 197 567.3 194.6 568.9 191.3C570.1 188.9 571.3 184.3 572.5 180.5C573.7 176.7 574.9 171.4 576.1 168.4C577.3 165.4 578.5 162.4 579.7 161.2C581.3 159.6 582.9 158.9 584.5 158.2C586.5 157.4 588.5 156.5 590.5 156.4C595 156.3 599.5 156.2 604 156.2C606.1 156.2 608.3 156.7 610.4 157.6C611.6 158.1 612.8 160.6 614 163.6C615 166.2 616.1 172.4 617.1 178.1C617.9 182.5 618.7 191.2 619.5 193.7C620.7 197.5 621.9 199.9 623.1 200.9C624.4 202 625.7 202.6 627 203C627.8 203.2 628.7 203.5 629.5 203.5C633.2 203.5 637 203.5 640.7 203.5C645.4 203.5 650 203.3 654.7 203C656.3 202.9 657.9 202.7 659.5 202.4C660.7 202.2 662 201.4 663.2 200.8C664.4 200.2 665.5 199.5 666.7 198.5C668.3 197.1 669.9 194.7 671.5 191.3C672.6 189 673.7 184.3 674.8 180.5C675.9 176.7 677 171.4 678.1 168.4C679.3 165.4 680.4 162.4 681.5 161.2C682.9 159.6 684.4 158.9 685.9 158.2C687.8 157.4 689.6 156.5 691.5 156.4C696 156.3 700.5 156.2 705 156.2C707.1 156.2 709.3 156.7 711.4 157.6C712.6 158.1 713.8 160.6 715 163.6C716 166.2 717.1 172.4 718.1 178.1C718.9 182.5 719.7 191.2 720.5 193.7C721.7 197.5 722.9 199.9 724.1 200.9C725.4 202 726.7 202.6 728 203C728.8 203.2 729.7 203.5 730.5 203.5C733.8 203.5 737.1 203.5 740.4 203.5C745.1 203.5 749.7 203.3 754.4 203C756 202.9 757.6 202.7 759.2 202.4C760.4 202.2 761.7 201.4 762.9 200.8C764.1 200.2 765.2 199.5 766.4 198.5C768 197 769.7 194.6 771.3 191.3C772.5 188.9 773.7 184.3 774.9 180.5C776.1 176.7 777.3 171.4 778.5 168.4C779.7 165.4 780.9 162.4 782.1 161.2C783.7 159.6 785.3 158.9 786.9 158.2C788.9 157.4 790.9 156.5 792.9 156.4C797.4 156.3 801.9 156.2 806.4 156.2C808.5 156.2 810.7 156.7 812.8 157.6C814 158.1 815.2 160.6 816.4 163.6C817.4 166.2 818.5 172.4 819.5 178.1C820.3 182.5 821.1 191.2 821.9 193.7C823.1 197.5 824.3 199.9 825.5 200.9C826.8 202 828.1 202.6 829.4 203C830.2 203.2 831.1 203.4 831.9 203.5"/>
<path d="M439 203.5C445.7 203.5 452.3 203.3 459 203C460.6 202.9 462.2 202.7 463.8 202.4C465 202.2 466.3 201.4 467.5 200.8C468.7 200.2 469.9 199.7 471.1 198.5C472.3 197.3 473.5 193.5 474.7 190.1C475.9 186.7 477.1 180.9 478.3 176.9C479.5 172.9 480.7 168.4 481.9 166C482.9 163.9 484 162.1 485 161.2C486.4 160 487.7 159.3 489.1 158.8C490.8 158.2 492.6 157.6 494.3 157.6C496.5 157.6 498.8 157.6 501 157.6C503 157.6 505 158 507 158.8C508.2 159.3 509.4 162.2 510.6 166C511.4 168.5 512.2 176.8 513 181.7C513.8 186.8 514.7 194 515.5 196.1C516.7 199.1 517.9 200.6 519.1 201.5C520.1 202.2 521 202.7 522 203C522.8 203.2 523.7 203.5 524.5 203.5C529 203.5 533.5 203.5 538 203.5C544.7 203.5 551.3 203.3 558 203C559.6 202.9 561.2 202.7 562.8 202.4C564 202.2 565.3 201.4 566.5 200.8C567.7 200.2 568.9 199.7 570.1 198.5C571.3 197.3 572.5 193.5 573.7 190.1C574.9 186.7 576.1 180.9 577.3 176.9C578.5 172.9 579.7 168.2 580.9 166C582.1 163.8 583.3 162.1 584.5 161.2C586.1 160 587.7 159.3 589.3 158.8C591.3 158.2 593.3 157.6 595.3 157.6C597.5 157.6 599.8 157.6 602 157.6C604 157.6 606 158 608 158.8C609.2 159.3 610.4 162.2 611.6 166C612.4 168.5 613.2 176.8 614 181.7C614.8 186.8 615.7 194 616.5 196.1C617.7 199.1 618.9 200.6 620.1 201.5C621.1 202.2 622 202.7 623 203C623.8 203.2 624.7 203.5 625.5 203.5C630.6 203.5 635.6 203.5 640.7 203.5C647.4 203.5 654 203.3 660.7 203C662.3 202.9 663.9 202.7 665.5 202.4C666.7 202.2 668 201.5 669.2 200.8C670.3 200.2 671.5 199.7 672.6 198.5C673.7 197.3 674.8 193.5 675.9 190.1C677 186.7 678.1 180.9 679.3 176.9C680.4 172.9 681.5 168.2 682.6 166C683.7 163.8 684.8 162.1 685.9 161.2C687.4 160 688.8 159.2 690.3 158.8C692.3 158.2 694.3 157.6 696.3 157.6C698.5 157.6 700.8 157.6 703 157.6C705 157.6 707 158 709 158.8C710.2 159.3 711.4 162.2 712.6 166C713.4 168.5 714.2 176.8 715 181.7C715.8 186.8 716.7 194 717.5 196.1C718.7 199.1 719.9 200.6 721.1 201.5C722.1 202.2 723 202.7 724 203C724.8 203.2 725.7 203.5 726.5 203.5C731.1 203.5 735.8 203.5 740.4 203.5C747.1 203.5 753.7 203.3 760.4 203C762 202.9 763.6 202.7 765.2 202.4C766.4 202.2 767.7 201.4 768.9 200.8C770.1 200.2 771.3 199.7 772.5 198.5C773.7 197.3 774.9 193.5 776.1 190.1C777.3 186.7 778.5 180.9 779.7 176.9C780.9 172.9 782.1 168.2 783.3 166C784.5 163.8 785.7 162.1 786.9 161.2C788.5 160 790.1 159.3 791.7 158.8C793.7 158.2 795.7 157.6 797.7 157.6C799.9 157.6 802.2 157.6 804.4 157.6C806.4 157.6 808.4 158 810.4 158.8C811.6 159.3 812.8 162.2 814 166C814.8 168.5 815.6 176.8 816.4 181.7C817.2 186.8 818.1 194 818.9 196.1C820.1 199.1 821.3 200.6 822.5 201.5C823.5 202.2 824.4 202.7 825.4 203C826.2 203.2 827.1 203.5 827.9 203.5"/>
<path d="M439 203.5C447.7 203.5 456.3 203.4 465 203C466.6 202.9 468.3 202.7 469.9 202.3C471.5 201.9 473.1 201 474.7 199.7C475.9 198.7 477.1 196.3 478.3 193.7C479.5 191.1 480.7 187 481.9 182.9C482.9 179.4 484 173.8 485 170.8C486 167.8 487.1 164.9 488.1 163.6C489.5 161.8 490.8 160.4 492.2 160C494.1 159.5 496 159.1 497.9 159.1C498.9 159.1 500 159.2 501 159.4C503 159.7 505 160.8 507 163.6C507.8 164.7 508.6 171.3 509.4 175.7C510.2 180.1 511 186.8 511.8 190.1C512.8 194.4 513.9 198.4 514.9 199.7C515.9 201 516.9 201.6 517.9 202.1C518.6 202.5 519.3 202.8 520 203C520.8 203.2 521.7 203.5 522.5 203.5C527.7 203.5 532.8 203.5 538 203.5C546.7 203.5 555.3 203.4 564 203C565.6 202.9 567.3 202.7 568.9 202.3C570.5 201.9 572.1 201 573.7 199.7C574.9 198.7 576.1 196.3 577.3 193.7C578.5 191.1 579.7 186.7 580.9 182.9C582.1 179.1 583.3 173.8 584.5 170.8C585.7 167.8 586.9 164.9 588.1 163.6C589.7 161.8 591.3 160.4 592.9 160C594.9 159.5 596.9 159.1 598.9 159.1C599.9 159.1 601 159.2 602 159.4C604 159.7 606 160.8 608 163.6C608.8 164.7 609.6 171.3 610.4 175.7C611.2 180.1 612 186.8 612.8 190.1C613.8 194.4 614.9 198.4 615.9 199.7C616.9 201 617.9 201.6 618.9 202.1C619.6 202.5 620.3 202.8 621 203C621.8 203.2 622.7 203.5 623.5 203.5C629.2 203.5 635 203.5 640.7 203.5C649.4 203.5 658 203.4 666.7 203C668.3 202.9 669.9 202.7 671.5 202.3C673 202 674.5 201 675.9 199.7C677 198.7 678.1 196.3 679.3 193.7C680.4 191.1 681.5 186.7 682.6 182.9C683.7 179.1 684.8 173.8 685.9 170.8C687 167.8 688.1 164.9 689.2 163.6C690.8 161.8 692.3 160.4 693.9 160C695.9 159.5 697.9 159.1 699.9 159.1C700.9 159.1 702 159.2 703 159.4C705 159.7 707 160.8 709 163.6C709.8 164.7 710.6 171.3 711.4 175.7C712.2 180.1 713 186.8 713.8 190.1C714.8 194.4 715.9 198.4 716.9 199.7C717.9 201 718.9 201.6 719.9 202.1C720.6 202.5 721.3 202.8 722 203C722.8 203.2 723.7 203.5 724.5 203.5C729.8 203.5 735.1 203.5 740.4 203.5C749.1 203.5 757.7 203.4 766.4 203C768 202.9 769.7 202.7 771.3 202.3C772.9 201.9 774.5 201 776.1 199.7C777.3 198.7 778.5 196.3 779.7 193.7C780.9 191.1 782.1 186.7 783.3 182.9C784.5 179.1 785.7 173.8 786.9 170.8C788.1 167.8 789.3 164.9 790.5 163.6C792.1 161.8 793.7 160.4 795.3 160C797.3 159.5 799.3 159.1 801.3 159.1C802.3 159.1 803.4 159.2 804.4 159.4C806.4 159.7 808.4 160.8 810.4 163.6C811.2 164.7 812 171.3 812.8 175.7C813.6 180.1 814.4 186.8 815.2 190.1C816.2 194.4 817.3 198.4 818.3 199.7C819.3 201 820.3 201.6 821.3 202.1C822 202.5 822.7 202.8 823.4 203C824.2 203.2 825.1 203.4 825.9 203.5"/>
<path d="M439 203.5C449 203.5 459 203.4 469 203C470.5 202.9 472 202.7 473.5 202.3C475.1 201.9 476.7 201 478.3 199.7C479.5 198.7 480.7 196.3 481.9 193.7C482.9 191.4 484 187.7 485 184.1C486 180.5 487.1 175 488.1 172C489.1 169 490.1 165.8 491.2 164.8C492.6 163.4 494.1 162.2 495.5 162.2C496.1 162.2 496.8 162.3 497.4 162.4C499 162.7 500.6 164.5 502.2 167.2C503.2 168.9 504.2 174.6 505.2 179.3C506 183 506.8 189.8 507.6 192.5C508.6 195.9 509.6 198.6 510.6 199.7C511.8 201 513 201.5 514.2 202.1C515 202.5 515.7 202.8 516.5 203C517.3 203.2 518.2 203.5 519 203.5C525.3 203.5 531.7 203.5 538 203.5C548 203.5 558 203.4 568 203C569.5 202.9 571 202.7 572.5 202.3C574.1 201.9 575.7 201 577.3 199.7C578.5 198.7 579.7 196.2 580.9 193.7C582.1 191.2 583.3 187.7 584.5 184.1C585.7 180.5 586.9 175 588.1 172C589.3 169 590.5 165.9 591.7 164.8C593.3 163.4 594.9 162.2 596.5 162.2C597.1 162.2 597.8 162.3 598.4 162.4C600 162.7 601.6 164.5 603.2 167.2C604.2 168.9 605.2 174.6 606.2 179.3C607 183 607.8 189.8 608.6 192.5C609.6 195.9 610.6 198.6 611.6 199.7C612.8 201 614 201.5 615.2 202.1C616 202.5 616.7 202.8 617.5 203C618.3 203.2 619.2 203.5 620 203.5C626.9 203.5 633.8 203.5 640.7 203.5C650.7 203.5 660.7 203.4 670.7 203C672.1 202.9 673.4 202.7 674.8 202.3C676.3 201.9 677.8 201 679.3 199.7C680.4 198.7 681.5 196.2 682.6 193.7C683.7 191.2 684.8 187.7 685.9 184.1C687 180.5 688.1 174.9 689.2 172C690.4 168.9 691.5 165.8 692.7 164.8C694.3 163.4 695.9 162.2 697.5 162.2C698.1 162.2 698.8 162.3 699.4 162.4C701 162.7 702.6 164.5 704.2 167.2C705.2 168.9 706.2 174.6 707.2 179.3C708 183 708.8 189.8 709.6 192.5C710.6 195.9 711.6 198.6 712.6 199.7C713.8 201 715 201.5 716.2 202.1C717 202.5 717.7 202.8 718.5 203C719.3 203.2 720.2 203.5 721 203.5C727.5 203.5 733.9 203.5 740.4 203.5C750.4 203.5 760.4 203.4 770.4 203C771.9 202.9 773.4 202.7 774.9 202.3C776.5 201.9 778.1 201 779.7 199.7C780.9 198.7 782.1 196.2 783.3 193.7C784.5 191.2 785.7 187.7 786.9 184.1C788.1 180.5 789.3 175 790.5 172C791.7 169 792.9 165.9 794.1 164.8C795.7 163.4 797.3 162.2 798.9 162.2C799.5 162.2 800.2 162.3 800.8 162.4C802.4 162.7 804 164.5 805.6 167.2C806.6 168.9 807.6 174.6 808.6 179.3C809.4 183 810.2 189.8 811 192.5C812 195.9 813 198.6 814 199.7C815.2 201 816.4 201.5 817.6 202.1C818.4 202.5 819.1 202.8 819.9 203C820.7 203.2 821.6 203.4 822.4 203.5"/>
<path d="M439 203.5C450.3 203.5 461.7 203.4 473 203C474.4 203 475.7 202.7 477.1 202.3C478.7 201.9 480.3 201 481.9 199.7C482.9 198.8 484 197 485 194.9C486 192.8 487.1 188.7 488.1 185.3C489.1 181.9 490.1 176.6 491.2 174.5C492 172.8 492.9 171.3 493.7 170.8C494.3 170.5 494.9 170.2 495.5 170.2C496.7 170.2 498 172.9 499.2 175.7C500 177.5 500.8 182.1 501.6 185.3C502.4 188.5 503.2 192.9 504 194.9C505 197.4 506 199.4 507 200.3C508 201.2 509 201.6 510 202.1C510.7 202.4 511.3 202.8 512 203C512.8 203.2 513.7 203.5 514.5 203.5C522.3 203.5 530.2 203.5 538 203.5C549.3 203.5 560.7 203.4 572 203C573.4 203 574.7 202.7 576.1 202.3C577.7 201.9 579.3 201 580.9 199.7C582.1 198.8 583.3 197 584.5 194.9C585.7 192.8 586.9 188.7 588.1 185.3C589.3 181.9 590.5 176.6 591.7 174.5C592.7 172.8 593.7 171.3 594.7 170.8C595.3 170.5 595.9 170.2 596.5 170.2C597.7 170.2 599 172.9 600.2 175.7C601 177.5 601.8 182.1 602.6 185.3C603.4 188.5 604.2 192.9 605 194.9C606 197.4 607 199.4 608 200.3C609 201.2 610 201.6 611 202.1C611.7 202.4 612.3 202.8 613 203C613.8 203.2 614.7 203.5 615.5 203.5C623.9 203.5 632.3 203.5 640.7 203.5C651.9 203.5 663.1 203.4 674.4 203C675.6 203 676.9 202.7 678.1 202.3C679.6 201.9 681.1 201 682.6 199.7C683.7 198.8 684.8 197 685.9 194.9C687 192.8 688.1 188.6 689.2 185.3C690.4 181.8 691.5 176.5 692.7 174.5C693.7 172.8 694.7 171.3 695.7 170.8C696.3 170.5 696.9 170.2 697.5 170.2C698.7 170.2 700 172.9 701.2 175.7C702 177.5 702.8 182.1 703.6 185.3C704.4 188.5 705.2 192.9 706 194.9C707 197.4 708 199.4 709 200.3C710 201.2 711 201.6 712 202.1C712.7 202.4 713.3 202.8 714 203C714.8 203.2 715.7 203.5 716.5 203.5C724.5 203.5 732.4 203.5 740.4 203.5C751.7 203.5 763.1 203.4 774.4 203C775.8 203 777.1 202.7 778.5 202.3C780.1 201.9 781.7 201 783.3 199.7C784.5 198.8 785.7 197 786.9 194.9C788.1 192.8 789.3 188.7 790.5 185.3C791.7 181.9 792.9 176.6 794.1 174.5C795.1 172.8 796.1 171.3 797.1 170.8C797.7 170.5 798.3 170.2 798.9 170.2C800.1 170.2 801.4 172.9 802.6 175.7C803.4 177.5 804.2 182.1 805 185.3C805.8 188.5 806.6 192.9 807.4 194.9C808.4 197.4 809.4 199.4 810.4 200.3C811.4 201.2 812.4 201.6 813.4 202.1C814.1 202.4 814.7 202.8 815.4 203C816.2 203.2 817.1 203.4 817.9 203.5"/>
<path d="M439 203.5C454.5 203.5 470 203.4 485.4 203C486.3 203 487.2 202.7 488.1 202.3C489.1 201.8 490.1 198.8 491.2 196.1C491.9 194.3 492.5 190.6 493.2 188.9C493.9 187.4 494.5 185.3 495.1 185.3C495.9 185.3 496.6 190.4 497.4 192.5C498.2 194.7 499 197.2 499.8 198.5C500.6 199.8 501.4 200.7 502.2 201.5C502.8 202.1 503.4 202.8 504 203C504.8 203.3 505.7 203.5 506.5 203.5C517 203.5 527.5 203.5 538 203.5C553.7 203.5 569.3 203.4 585 203C586 203 587.1 202.7 588.1 202.3C589.3 201.8 590.5 198.8 591.7 196.1C592.5 194.3 593.3 190.7 594.1 188.9C594.8 187.4 595.4 185.3 596.1 185.3C596.9 185.3 597.6 190.4 598.4 192.5C599.2 194.7 600 197.2 600.8 198.5C601.6 199.8 602.4 200.7 603.2 201.5C603.8 202.1 604.4 202.8 605 203C605.8 203.3 606.7 203.5 607.5 203.5C618.6 203.5 629.6 203.5 640.7 203.5C655.9 203.5 671.1 203.4 686.4 203C687.3 203 688.3 202.7 689.2 202.3C690.4 201.8 691.5 198.7 692.7 196.1C693.5 194.3 694.3 190.7 695.1 188.9C695.8 187.4 696.4 185.3 697.1 185.3C697.9 185.3 698.6 190.4 699.4 192.5C700.2 194.7 701 197.2 701.8 198.5C702.6 199.8 703.4 200.7 704.2 201.5C704.8 202.1 705.4 202.8 706 203C706.8 203.3 707.7 203.5 708.5 203.5C719.1 203.5 729.8 203.5 740.4 203.5C756.1 203.5 771.7 203.4 787.4 203C788.4 203 789.5 202.7 790.5 202.3C791.7 201.8 792.9 198.8 794.1 196.1C794.9 194.3 795.7 190.7 796.5 188.9C797.2 187.4 797.8 185.3 798.5 185.3C799.3 185.3 800 190.4 800.8 192.5C801.6 194.7 802.4 197.2 803.2 198.5C804 199.8 804.8 200.7 805.6 201.5C806.2 202.1 806.8 202.8 807.4 203C808.2 203.3 809.1 203.5 809.9 203.5"/>
<path d="M439 203.5C455.3 203.5 471.7 203.5 488 203C488.5 203 489.1 202.5 489.6 202.1C490.7 201.3 491.7 198.3 492.7 198.3C493.6 198.3 494.6 199.7 495.5 200.9C495.9 201.4 496.3 202.8 496.7 203C497.5 203.3 498.4 203.5 499.2 203.5C512.1 203.5 525.1 203.5 538 203.5C554.7 203.5 571.3 203.5 588 203C588.6 203 589.3 202.5 589.9 202.1C591.1 201.3 592.3 198.3 593.5 198.3C594.5 198.3 595.5 199.7 596.5 200.9C596.9 201.4 597.3 202.8 597.7 203C598.5 203.3 599.4 203.5 600.2 203.5C613.7 203.5 627.2 203.5 640.7 203.5C656.8 203.5 673 203.5 689.1 203C689.7 203 690.3 202.5 690.9 202.1C692.1 201.3 693.3 198.3 694.5 198.3C695.5 198.3 696.5 199.7 697.5 200.9C697.9 201.4 698.3 202.8 698.7 203C699.5 203.3 700.4 203.5 701.2 203.5C714.3 203.5 727.3 203.5 740.4 203.5C757.1 203.5 773.7 203.5 790.4 203C791 203 791.7 202.5 792.3 202.1C793.5 201.3 794.7 198.3 795.9 198.3C796.9 198.3 797.9 199.7 798.9 200.9C799.3 201.4 799.7 202.8 800.1 203C800.9 203.3 801.8 203.5 802.6 203.5"/>
</g>
<rect x="451.1" y="13" width="290.1" height="190.4" fill="none" stroke="#000" stroke-width="1.5"/>
<path d="M451.8 203.4H740.5" stroke="#000084" stroke-width="1.6" fill="none"/>
<path d="M511.4 203.4v-6.3 M511.4 13v6.3M572 203.4v-6.3 M572 13v6.3M632.6 203.4v-6.3 M632.6 13v6.3M693.2 203.4v-6.3 M693.2 13v6.3M451.1 139.9h6.3 M741.2 139.9h-6.3M451.1 76.5h6.3 M741.2 76.5h-6.3" stroke="#000" stroke-width="1" fill="none"/>
<text x="443.2" y="207.7" font-size="14.8" text-anchor="end" >0</text>
<text x="443.2" y="144.2" font-size="14.8" text-anchor="end" >50</text>
<text x="443.2" y="80.8" font-size="14.8" text-anchor="end" >100</text>
<text x="443.2" y="17.3" font-size="14.8" text-anchor="end" >150</text>
<text x="450.5" y="221" font-size="14.8" text-anchor="middle" >0</text>
<text x="511.1" y="221" font-size="14.8" text-anchor="middle" >500</text>
<text x="571.7" y="221" font-size="14.8" text-anchor="middle" >1000</text>
<text x="632.3" y="221" font-size="14.8" text-anchor="middle" >1500</text>
<text x="692.9" y="221" font-size="14.8" text-anchor="middle" >2000</text>
<text x="596.3" y="241.6" font-size="16.8" text-anchor="middle">modulation coil current <tspan font-style="italic">I</tspan> [µA]</text>
<text transform="translate(408.4 108.2) rotate(-90)" font-size="16.8" text-anchor="middle">SQUID voltage <tspan font-style="italic">V</tspan> [µV]</text>
<text transform="translate(460.5 41) scale(1.06 1)" font-size="25">(b)</text>
<rect x="62.8" y="258.5" width="290" height="190.1" fill="none" stroke="#000" stroke-width="1.5"/>
<path d="M135.1 448.6v-6.3 M135.1 258.5v6.3M207.7 448.6v-6.3 M207.7 258.5v6.3M280.2 448.6v-6.3 M280.2 258.5v6.3M62.8 416.9h6.3 M352.8 416.9h-6.3M62.8 385.2h6.3 M352.8 385.2h-6.3M62.8 353.6h6.3 M352.8 353.6h-6.3M62.8 321.9h6.3 M352.8 321.9h-6.3M62.8 290.2h6.3 M352.8 290.2h-6.3" stroke="#000" stroke-width="1" fill="none"/>
<g fill="#000084">
<circle cx="65.7" cy="272.5" r="2.3"/>
<circle cx="69.3" cy="274.3" r="2.3"/>
<circle cx="73" cy="276.4" r="2.3"/>
<circle cx="76.6" cy="279.8" r="2.3"/>
<circle cx="80.2" cy="283.7" r="2.3"/>
<circle cx="83.9" cy="288.8" r="2.3"/>
<circle cx="87.3" cy="293.5" r="2.3"/>
<circle cx="90.7" cy="298.2" r="2.3"/>
<circle cx="94.4" cy="302.7" r="2.3"/>
<circle cx="97.8" cy="307" r="2.3"/>
<circle cx="101.4" cy="311.3" r="2.3"/>
<circle cx="105.1" cy="315.5" r="2.3"/>
<circle cx="108.5" cy="319.2" r="2.3"/>
<circle cx="111.9" cy="320.9" r="2.3"/>
<circle cx="115.5" cy="317.5" r="2.3"/>
<circle cx="119.2" cy="313.8" r="2.3"/>
<circle cx="122.6" cy="310.6" r="2.3"/>
<circle cx="126.2" cy="307.4" r="2.3"/>
<circle cx="129.7" cy="304.2" r="2.3"/>
<circle cx="133.3" cy="300.6" r="2.3"/>
<circle cx="136.7" cy="297.4" r="2.3"/>
<circle cx="140.3" cy="294.1" r="2.3"/>
<circle cx="143.8" cy="290.9" r="2.3"/>
<circle cx="147.4" cy="288.2" r="2.3"/>
<circle cx="150.8" cy="286.7" r="2.3"/>
<circle cx="154.5" cy="284.9" r="2.3"/>
<circle cx="158.1" cy="283.2" r="2.3"/>
<circle cx="161.5" cy="281.7" r="2.3"/>
<circle cx="165.2" cy="280" r="2.3"/>
<circle cx="168.6" cy="277" r="2.3"/>
<circle cx="172.2" cy="274.7" r="2.3"/>
<circle cx="175.6" cy="272.8" r="2.3"/>
<circle cx="179.3" cy="271.7" r="2.3"/>
<circle cx="182.7" cy="271.5" r="2.3"/>
<circle cx="186.3" cy="272.1" r="2.3"/>
<circle cx="189.8" cy="273.2" r="2.3"/>
<circle cx="193.4" cy="274.9" r="2.3"/>
<circle cx="196.8" cy="277.9" r="2.3"/>
<circle cx="200.6" cy="282.4" r="2.3"/>
<circle cx="204.1" cy="287.5" r="2.3"/>
<circle cx="207.7" cy="293.1" r="2.3"/>
<circle cx="211.1" cy="297.4" r="2.3"/>
<circle cx="214.8" cy="301.4" r="2.3"/>
<circle cx="218.2" cy="305.7" r="2.3"/>
<circle cx="221.8" cy="309.5" r="2.3"/>
<circle cx="225.2" cy="313.2" r="2.3"/>
<circle cx="228.9" cy="317.7" r="2.3"/>
<circle cx="232.5" cy="319.8" r="2.3"/>
<circle cx="235.9" cy="316.6" r="2.3"/>
<circle cx="239.6" cy="313.2" r="2.3"/>
<circle cx="243" cy="310.2" r="2.3"/>
<circle cx="246.6" cy="307" r="2.3"/>
<circle cx="250.1" cy="303.8" r="2.3"/>
<circle cx="253.7" cy="300.3" r="2.3"/>
<circle cx="257.3" cy="296.7" r="2.3"/>
<circle cx="260.7" cy="293.5" r="2.3"/>
<circle cx="264.4" cy="290.7" r="2.3"/>
<circle cx="267.8" cy="288.6" r="2.3"/>
<circle cx="271.4" cy="286" r="2.3"/>
<circle cx="274.9" cy="284.3" r="2.3"/>
<circle cx="278.5" cy="282.2" r="2.3"/>
<circle cx="281.9" cy="280" r="2.3"/>
<circle cx="285.6" cy="277.5" r="2.3"/>
<circle cx="289" cy="275.3" r="2.3"/>
<circle cx="292.6" cy="272.1" r="2.3"/>
<circle cx="296" cy="270.4" r="2.3"/>
<circle cx="299.7" cy="269.5" r="2.3"/>
<circle cx="303.1" cy="269.5" r="2.3"/>
<circle cx="306.7" cy="270.4" r="2.3"/>
<circle cx="310.2" cy="271.5" r="2.3"/>
<circle cx="313.8" cy="273.8" r="2.3"/>
<circle cx="317.2" cy="277" r="2.3"/>
<circle cx="320.9" cy="281.3" r="2.3"/>
<circle cx="324.3" cy="286" r="2.3"/>
<circle cx="327.9" cy="290.7" r="2.3"/>
<circle cx="331.6" cy="295" r="2.3"/>
<circle cx="335" cy="299.9" r="2.3"/>
<circle cx="338.6" cy="304.2" r="2.3"/>
<circle cx="342" cy="308" r="2.3"/>
<circle cx="345.7" cy="312.1" r="2.3"/>
<circle cx="349.1" cy="316.4" r="2.3"/>
<circle cx="352.7" cy="319.8" r="2.3"/>
</g>
<text x="54.4" y="452.9" font-size="14.8" text-anchor="end" >0</text>
<text x="54.4" y="421.2" font-size="14.8" text-anchor="end" >5</text>
<text x="54.4" y="389.5" font-size="14.8" text-anchor="end" >10</text>
<text x="54.4" y="357.9" font-size="14.8" text-anchor="end" >15</text>
<text x="54.4" y="326.2" font-size="14.8" text-anchor="end" >20</text>
<text x="54.4" y="294.5" font-size="14.8" text-anchor="end" >25</text>
<text x="54.4" y="262.8" font-size="14.8" text-anchor="end" >30</text>
<text x="77.2" y="466.6" font-size="14.8" text-anchor="middle" >-1000</text>
<text x="134.7" y="466.6" font-size="14.8" text-anchor="middle" >-500</text>
<text x="207.5" y="466.6" font-size="14.8" text-anchor="middle" >0</text>
<text x="280.1" y="466.6" font-size="14.8" text-anchor="middle" >500</text>
<text x="340.2" y="466.6" font-size="14.8" text-anchor="middle" >1000</text>
<text x="207.7" y="488" font-size="16.8" text-anchor="middle">modulation coil current <tspan font-style="italic">I</tspan> [µA]</text>
<text transform="translate(29 352.5) rotate(-90)" font-size="16.8" text-anchor="middle">critical current <tspan font-style="italic">I</tspan><tspan font-size="12.5" dy="3.5">c</tspan><tspan dy="-3.5"> [µA]</tspan></text>
<text transform="translate(72.2 437.8) scale(1.06 1)" font-size="25">(c)</text>
<g clip-path="url(#cd)" fill="none" stroke="#000084" stroke-linejoin="round">
<path d="M487 410.6 489 410.5 491 410.4 493 410.4 495 410.6 497 410.7 499 410.7 501 410.7 503 410.5 505 410.2 507 410.2 509 410.7 511 411.6 513 412.3 515 412.6 517 412.7 519 412.8 521 412.9 523 413 525 413 527 413.1 529 413.1 531 413.3 533 413.6 535 413.7 537 413.7 539 413.8 541 413.8 543 413.8 545 413.5 547 413.2 549 412.9 551 412.8 553 412.8 555 412.7 557 412.7 559 412.7 561 412.7 563 412.7 565 412.8 567 412.9 569 413 571 413 573 413 575 412.9 577 413 579 412.9 581 412.6 583 412.5 585 412.8 587 413.1 589 413.4 591 413.7 593 414.2 595 415 597 415.7 599 416.3" stroke-width="2.6"/>
<path d="M600 416.6 602 417.2 604 417.7 606 417.9 608 417.9 610 417.7 612 417.6 614 417.5 616 417.5 618 417.5 620 417.7 622 418.1 624 418.6 626 418.9 628 418.9 630 418.7 632 418.5 634 418.6 636 418.8 638 419.1 640 419.3 642 419.5 644 419.7 646 419.8 648 419.8 650 419.7 652 419.5 654 419.3 656 419.2 658 419.1 660 419 662 419 664 419.2 666 419.3 668 419.4 670 419.2 672 418.9 674 418.6 676 418.6 678 418.7 680 418.8 682 418.8 684 418.8 686 418.7 688 418.6 690 418.6 692 418.7 694 418.8 696 418.8 698 418.8 700 418.7 702 418.6 704 418.6 706 418.7 708 418.7 710 418.8 712 418.8 714 418.7 716 418.7 718 418.7 720 418.7 722 418.8 724 418.9 726 418.9 728 418.9 730 418.9 732 418.9 734 418.9 736 418.9 738 419 740 419" stroke-width="2"/>
<path d="M451.4 349.8 453 359.4 454.6 365.9 456.2 374.7 458 373.5 460.2 373.9 462.3 376.3 463.4 386.7 464.3 393.9 465.5 391 466.7 389.9 468 393.5 469.1 395.5 470.5 394 472.3 397.1 473.4 401 474.7 403.6 476.5 402 478.7 404.4 480.3 405 481.9 407.6 482.7 404 483.2 397.1 483.7 405 484.3 408.4 485.5 409 486 412.4 486.5 408.5 487 412.4 487.5 410.3 488 408.8 488.5 410.3 489 410.6 489.5 412.1 490 408.8 490.5 410.8 491 410.6 491.5 407.7 492 408.4 492.5 411.4 493 411.6 493.5 412.4 494 411.5 494.5 411.2 495 410.8 495.5 412.8 496 408.8 496.5 410.3 497 411.5 497.5 407.2 498 413.6 498.5 409 499 410.6 499.5 415.5 500 408.9 500.5 409.6 501 414.2 501.5 408.3 502 409.7 502.5 411.7 503 411.5 503.5 411.7 504 411.1 504.5 413.2 505 412.4 505.5 411.4 506 408.6 506.5 408.5 507 406 507.5 411.8 508 406.4 508.5 412.5 509 414.8 509.5 408.6 510 409.6 510.5 410.3 511 413.4 511.5 409.9 512 411.7 512.5 411 513 411.8 513.5 415.3 514 410.4 514.5 412.7 515 413.2 515.5 414.5 516 409.9 516.5 415.1 517 413.7 517.5 414.7 518 412.9 518.5 409.2 519 411.4 519.5 414.6 520 412.9 520.5 412.8 521 416.8 521.5 417.8 522 412.9 522.5 417.2 523 408.6 523.5 408.5 524 414.9 524.5 412.4 525 414.3 525.5 414.2 526 412.9 526.5 414.6 527 413.4 527.5 409.7 528 413.6 528.5 413.5 529 417.2 529.5 410.7 530 413.3 530.5 412.3 531 413 531.5 417 532 414.3 532.5 412.5 533 413.9 533.5 415.3 534 411.5 534.5 413.1 535 417.1 535.5 415.6 536 413.6 536.5 412.7 537 408.6 537.5 410.3 538 415.8 538.5 414.5 539 414.1 539.5 410.9 540 411.8 540.48 414.8 540.5 414.9 540.6 391.5 540.72 415 541 414.4 541.5 412.7 542 414.9 542.5 415.9 543 412.3 543.5 412.6 544 411.3 544.5 411 545 415.3 545.5 405.9 546 414.1 546.5 408.9 546.58 414.2 546.7 391.5 546.82 414.4 547 410.9 547.5 397.3 548 412.1 548.5 408.6 548.88 413.9 549 401 549 411.4 549.12 414.1 549.5 414.3 550 416.8 550.5 416.3 550.88 413.8 551 387.5 551 416.4 551.12 414 551.5 413 552 411.8 552.5 405.6 552.88 413.8 553 402 553 414.5 553.12 414 553.5 410.8 554 407.1 554.5 411.3 555 414.3 555.5 410.4 556 413.1 556.5 408.7 557 405.3 557.5 404.5 557.78 413.7 557.9 394 558 414.9 558.02 413.9 558.5 388.3 559 397.5 559.18 413.7 559.3 397 559.42 413.9 559.5 407.8 560 406 560.5 400.7 560.58 413.7 560.7 393 560.82 413.9 561 409.5 561.5 415 561.98 413.7 562 405.1 562.1 395 562.22 413.9 562.5 405.4 563 409.1 563.38 413.7 563.5 392.5 563.5 409 563.62 413.9 564 409 564.5 406.5 564.78 413.7 564.9 396 565 409 565.02 413.9 565.5 407.2 565.88 413.8 566 399 566 416.2 566.12 414 566.5 410.4 566.88 413.9 567 361.8 567 408.5 567.12 414.1 567.5 416.5 567.88 414 568 393 568 416.7 568.12 414.2 568.5 395.1 568.98 414 569 411.7 569.1 387.5 569.22 414.2 569.5 415.6 570 393.4 570.5 406 570.58 414 570.7 389.1 570.82 414.2 571 401.7 571.5 410 571.88 414 572 399 572 410.5 572.12 414.2 572.5 412.3 573 415.8 573.5 407.2 573.78 414 573.9 374.7 574 413 574.02 414.2 574.5 408.6 575 411.9 575.38 413.9 575.5 402 575.5 412.2 575.62 414.1 576 413.7 576.5 412.7 576.88 414 577 404 577 407.4 577.12 414.2 577.5 413.9 578 408.4 578.5 411.4 578.98 413.9 579 413.5 579.1 399.5 579.22 414.1 579.5 413.6 580 416.2 580.5 403.9 581 413.4 581.5 412.4 582 411.8 582.5 413.9 583 410.1 583.08 413.6 583.2 398.7 583.32 413.8 583.5 414 584 413.8 584.5 410.5 585 411.3 585.5 412.4 586 411.5 586.5 415.3 586.68 414 586.8 407.6 586.92 414.2 587 413.5 587.5 411.8 588 415.8 588.5 413.5 589 413 589.5 410.4 589.88 414.6 590 403.6 590 411.8 590.12 414.8 590.5 411.9 591 414.5 591.5 411.9 592 409.6 592.28 415.1 592.4 397.9 592.5 414.5 592.52 415.3 593 412.8 593.5 414 594 415.6 594.5 418.3 594.98 416 595 413.2 595.1 388 595.22 416.2 595.5 414.7 596 414.5 596.5 414.9 597 419.1 597.08 416.8 597.2 405.2 597.32 417 597.5 417.4 598 412.4 598.5 420.1 599 415.3 599.5 416 600 416.7 600.5 419 601 416.7 601.5 418.4 602 419.7 602.5 419.8 603 418.4 603.5 416 604 414.7 604.5 420 605 418.7 605.5 416.2 606 417 606.5 417.1 607 414.9 607.5 418.3 608 416.5 608.5 417.3 609 419 609.5 417.6 610 418.5 610.5 418.3 611 417.6 611.5 417.6 612 420.3 612.5 417.3 613 419.9 613.5 416.3 614 418.5 614.5 417.7 615 416.6 615.5 414.1 616 419.6 616.5 416 617 416.3 617.5 417.7 618 417.6 618.5 417.9 619 417.2 619.5 415.7 620 418.8 620.5 416.6 621 418.2 621.5 418.7 622 419.7 622.5 418 623 418 623.5 418.2 624 416.2 624.5 417.7 625 417.5 625.5 417.4 626 419.1 626.5 418.5 627 421 627.5 420.9 628 416.4 628.5 419 629 417.5 629.5 419.4 630 418.9 630.5 419.8 631 419 631.5 419.5 632 418.1 632.5 415.2 633 417 633.5 417.4 634 417.9 634.5 417.3 635 420.8 635.5 418.5 636 420.5 636.5 418.4 637 421.1 637.5 417.5 638 419.9 638.5 417.4 639 419.8 639.5 421.3 640 417.2 640.5 418.3 641 419.8 641.5 419.2 642 417.8 642.5 421.1 643 419.7 643.5 421.4 644 420.1 644.5 418.3 645 419.2 645.5 421.6 646 418 646.5 419.2 647 420.6 647.5 421.2 648 420.9 648.5 417.9 649 422.5 649.5 419.5 650 419.7 650.5 419.6 651 419.3 651.5 418.3 652 419.1 652.5 421.2 653 417.6 653.5 416.2 654 420 654.5 419.8 655 420.2 655.5 421.5 656 418.3 656.5 419.4 657 419.8 657.5 420.7 658 420.4 658.5 418 659 417.3 659.5 418.7 660 416.9 660.5 420.5 661 418.5 661.5 418.6 662 417.9 662.5 421 663 419.5 663.5 418.6 664 420 664.5 419.1 665 420 665.5 421 666 419 666.5 420 667 420 667.5 420.8 668 420.1 668.5 419.4 669 418.5 669.5 419.7 670 417.9 670.5 420 671 419.1 671.5 419.7 672 418.2 672.5 417.8 673 417.6 673.5 420.1 674 418.4 674.5 418.3 675 416.3 675.5 418.5 676 414.1 676.5 420.4 677 418.3 677.5 418.7 678 416.8 678.5 417.3 679 419.5 679.5 418.5 680 419.4 680.5 420.5 681 419.7 681.5 416.4 682 417.6 682.5 417.4 683 417.6 683.5 416.1 684 416.1 684.5 417.8 685 418 685.5 419.4 686 418.3 686.5 420.5 687 416.3 687.5 416.8 688 418.9 688.5 418.3 689 417.3 689.5 419.6 690 420 690.5 420.3 691 418.1 691.5 418.7 692 419 692.5 418.8 693 420 693.5 418.1 694 419.2 694.5 415.9 695 419.8 695.5 420.9 696 418.8 696.5 420.1 697 416.6 697.5 418.3 698 416.8 698.5 419.2 699 419.4 699.5 416.9 700 417.6 700.5 417.9 701 421.8 701.5 418.6 702 418.8 702.5 419.1 703 419 703.5 418.3 704 416.9 704.5 417.8 705 420.8 705.5 419 706 418.2 706.5 416.9 707 418.6 707.5 418.8 708 417.9 708.5 419.9 709 418 709.5 418.6 710 419.9 710.5 419.1 711 420.2 711.5 418.5 712 418.2 712.5 419.3 713 419 713.5 420.3 714 419.2 714.5 418.7 715 419.3 715.5 419.5 716 417.2 716.5 418.5 717 418.2 717.5 420.2 718 418 718.5 420.1 719 417.1 719.5 418.6 720 420.1 720.5 418.4 721 420.3 721.5 416.2 722 418.9 722.5 419.1 723 418.7 723.5 416.9 724 419.8 724.5 415.9 725 420.1 725.5 419.3 726 420.2 726.5 418.6 727 417.4 727.5 418.2 728 418.3 728.5 419.7 729 418.5 729.5 419.4 730 419.5 730.5 420.7 731 416.3 731.5 418.3 732 419.8 732.5 419.8 733 418.2 733.5 418.5 734 418.8 734.5 419.1 735 418.2 735.5 418.1 736 417.5 736.5 418.5 737 420.8 737.5 417.7 738 420.2 738.5 421.5 739 419.3 739.5 422.1 740 418.9 740.5 421.2 741 419" stroke-width="1.6"/>
<path d="M531.2 414L532 400V250H534V400L534.8 414Z" fill="#000084" stroke="none"/>
<path d="M554.6 414L555.2 398V321.3H556.8V398L557.4 414Z" fill="#000084" stroke="none"/>
</g>
<rect x="451.1" y="258.5" width="290.1" height="190.1" fill="none" stroke="#000" stroke-width="1.5"/>
<path d="M499.5 448.6v-6.3 M499.5 258.5v6.3M547.8 448.6v-6.3 M547.8 258.5v6.3M596.2 448.6v-6.3 M596.2 258.5v6.3M644.5 448.6v-6.3 M644.5 258.5v6.3M692.9 448.6v-6.3 M692.9 258.5v6.3M451.1 353.6h6.3 M741.2 353.6h-6.3" stroke="#000" stroke-width="1" fill="none"/>
<text x="445.4" y="262.8" font-size="14.8" text-anchor="end" >100</text>
<text x="445.4" y="357.9" font-size="14.8" text-anchor="end" >10</text>
<text x="445.4" y="452.9" font-size="14.8" text-anchor="end" >1</text>
<text x="451.1" y="471.3" font-size="14.8" text-anchor="middle" >1</text>
<text x="499.5" y="471.3" font-size="14.8" text-anchor="middle" >10</text>
<text x="547.8" y="471.3" font-size="14.8" text-anchor="middle" >100</text>
<text x="596.2" y="471.3" font-size="14.8" text-anchor="middle" >1000</text>
<text x="644.5" y="471.3" font-size="14.8" text-anchor="middle" >10000</text>
<text x="681.3" y="471.3" font-size="14.8">10<tspan font-size="11" dy="-7.2" dx="1">5</tspan></text>
<text x="722.3" y="471.3" font-size="14.8">10<tspan font-size="11" dy="-7.2" dx="1">6</tspan></text>
<text x="595.5" y="492.4" font-size="16.8" text-anchor="middle">frequency <tspan font-style="italic">f</tspan> [Hz]</text>
<text transform="translate(410.2 354) rotate(-90)" font-size="16.8" text-anchor="middle"><tspan font-size="21" dy="2.3">√</tspan><tspan dy="-2.3">S</tspan><tspan font-size="12.8" dy="3.5">Φ</tspan><tspan dy="-3.5"> [µΦ</tspan><tspan font-size="12.8" dy="3.5">0</tspan><tspan dy="-3.5">/</tspan><tspan font-size="21" dy="2.3">√</tspan><tspan dy="-2.3">Hz]</tspan></text>
<text transform="translate(459.5 437.8) scale(1.08 1)" font-size="25">(d)</text>
</svg></body></html>
